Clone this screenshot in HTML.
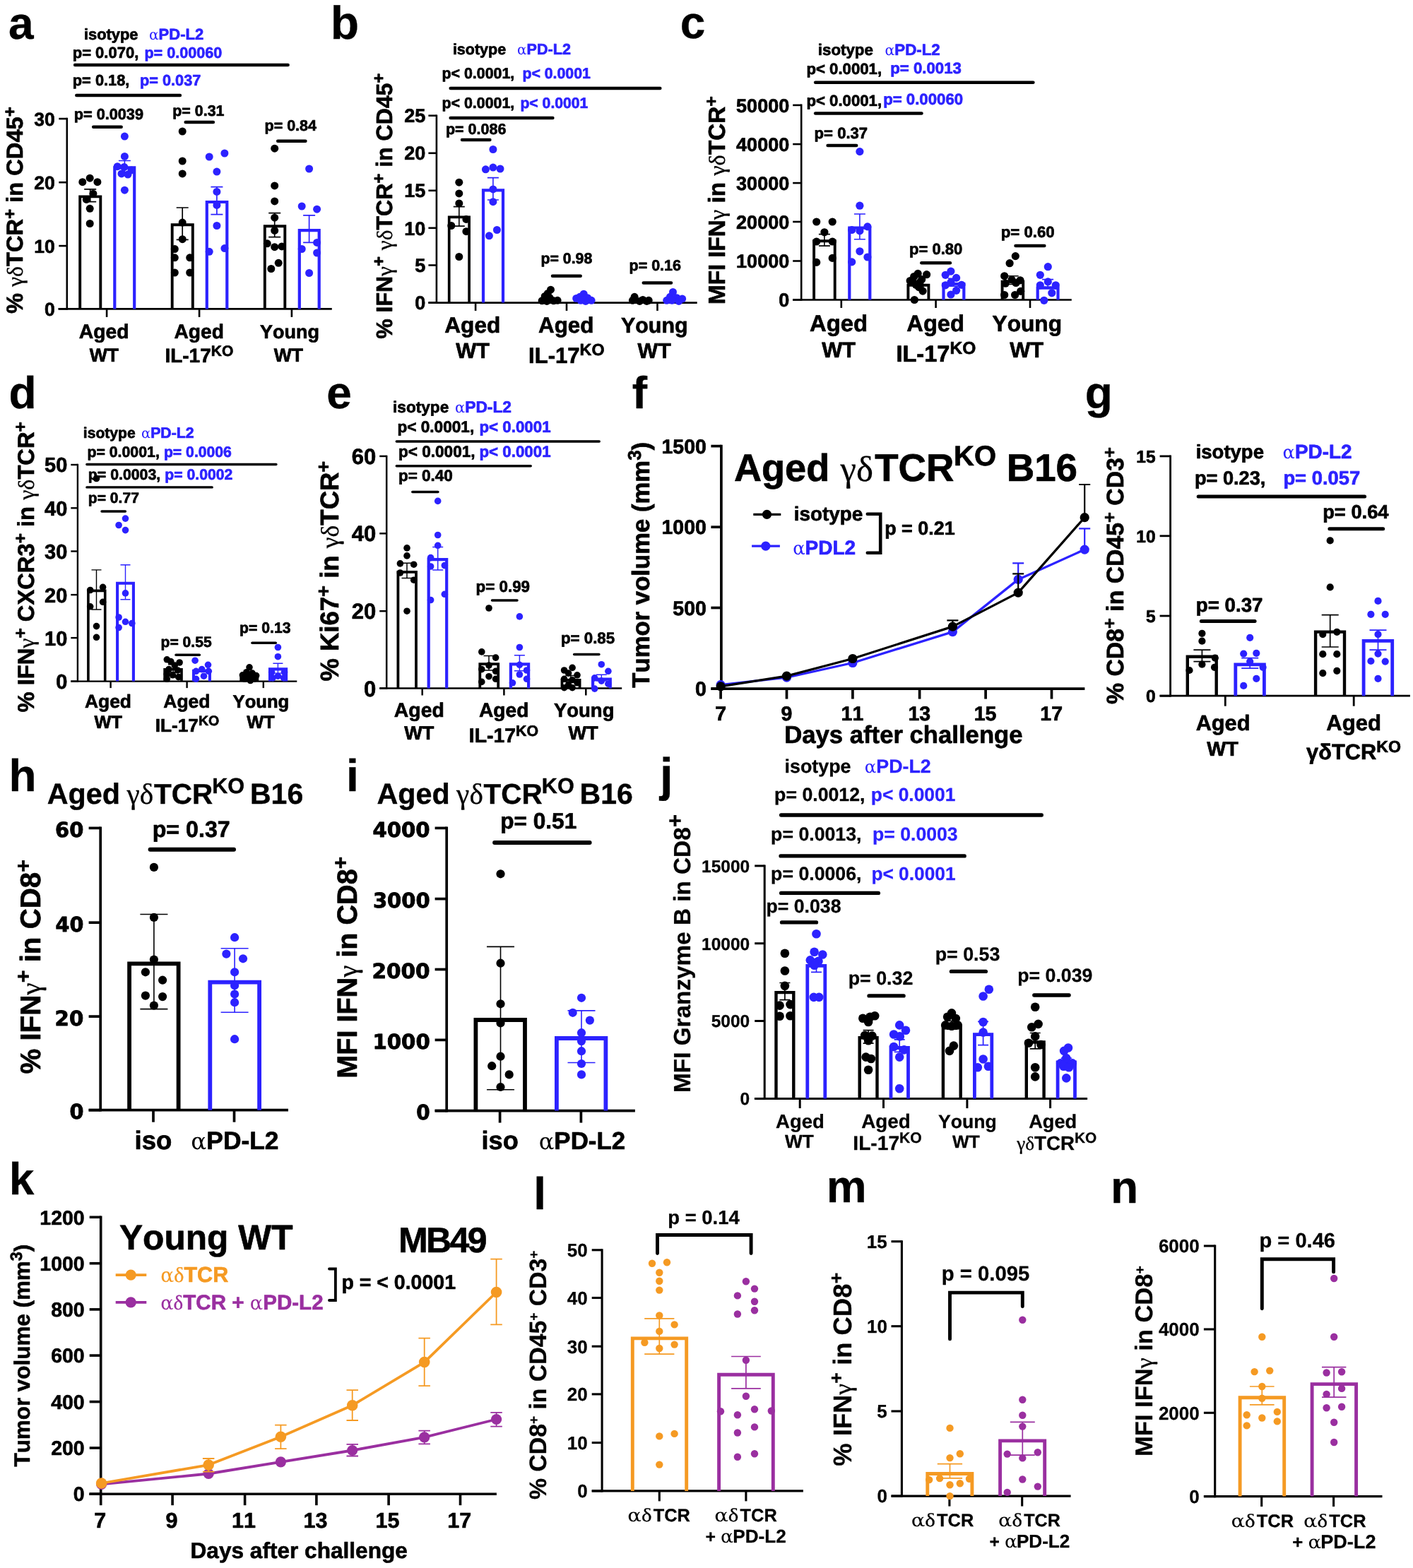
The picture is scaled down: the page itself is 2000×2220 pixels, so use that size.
<!DOCTYPE html>
<html lang="en"><head><meta charset="utf-8"><title>Figure</title>
<style>
html,body{margin:0;padding:0;background:#fff;}
body{width:2000px;height:2220px;overflow:hidden;}
svg{display:block;font-family:"Liberation Sans",sans-serif;font-weight:bold;font-kerning:none;text-rendering:geometricPrecision;}
</style></head><body>
<svg xmlns="http://www.w3.org/2000/svg" width="2000" height="2220" viewBox="0 0 2000 2220">
<rect x="0" y="0" width="2000" height="2220" fill="#ffffff"/>
<!-- panel a -->
<text x="11.9" y="54.9" font-size="64" stroke="#000000" stroke-width="0.3" stroke-linejoin="round" xml:space="preserve"><tspan>a</tspan></text>
<text x="118.9" y="56.3" font-size="21.9" stroke="#000000" stroke-width="0.7" stroke-linejoin="round" xml:space="preserve"><tspan>isotype</tspan></text>
<text x="210.9" y="56.3" font-size="22" fill="#2c22ff" stroke="#2c22ff" stroke-width="0.7" stroke-linejoin="round" xml:space="preserve"><tspan font-family="'DejaVu Serif','Liberation Serif',serif" stroke-width="0" font-weight="normal" font-size="20.3">α</tspan><tspan>PD-L2</tspan></text>
<text x="102.7" y="82.4" font-size="22" stroke="#000000" stroke-width="0.7" stroke-linejoin="round" xml:space="preserve"><tspan>p= 0.070,</tspan></text>
<text x="204.4" y="82.4" font-size="21.6" fill="#2c22ff" stroke="#2c22ff" stroke-width="0.7" stroke-linejoin="round" xml:space="preserve"><tspan>p= 0.00060</tspan></text>
<line x1="106.1" y1="92" x2="407.6" y2="92" stroke="#000000" stroke-width="4.5" stroke-linecap="round"/>
<text x="102.8" y="120.9" font-size="21.8" stroke="#000000" stroke-width="0.7" stroke-linejoin="round" xml:space="preserve"><tspan>p= 0.18,</tspan></text>
<text x="198.1" y="120.9" font-size="21.7" fill="#2c22ff" stroke="#2c22ff" stroke-width="0.7" stroke-linejoin="round" xml:space="preserve"><tspan>p= 0.037</tspan></text>
<line x1="108.3" y1="134.9" x2="254.9" y2="134.9" stroke="#000000" stroke-width="4.5" stroke-linecap="round"/>
<text x="104.7" y="169" font-size="21.7" stroke="#000000" stroke-width="0.7" stroke-linejoin="round" xml:space="preserve"><tspan>p= 0.0039</tspan></text>
<line x1="132.2" y1="179.7" x2="171.7" y2="179.7" stroke="#000000" stroke-width="4.5" stroke-linecap="round"/>
<text x="244.3" y="164" font-size="21.4" stroke="#000000" stroke-width="0.7" stroke-linejoin="round" xml:space="preserve"><tspan>p= 0.31</tspan></text>
<line x1="262.7" y1="173.1" x2="301.9" y2="173.1" stroke="#000000" stroke-width="4.5" stroke-linecap="round"/>
<text x="374.5" y="184.6" font-size="21.5" stroke="#000000" stroke-width="0.7" stroke-linejoin="round" xml:space="preserve"><tspan>p= 0.84</tspan></text>
<line x1="393.2" y1="199.7" x2="432.4" y2="199.7" stroke="#000000" stroke-width="4.5" stroke-linecap="round"/>
<line x1="94.8" y1="166.8" x2="94.8" y2="438.7" stroke="#000000" stroke-width="2.6"/>
<line x1="83.3" y1="168.1" x2="94.8" y2="168.1" stroke="#000000" stroke-width="2.6"/>
<text x="77.8" y="177.6" font-size="26.5" text-anchor="end" stroke="#000000" stroke-width="0.7" stroke-linejoin="round" xml:space="preserve"><tspan>30</tspan></text>
<line x1="83.3" y1="258.2" x2="94.8" y2="258.2" stroke="#000000" stroke-width="2.6"/>
<text x="77.8" y="267.7" font-size="26.5" text-anchor="end" stroke="#000000" stroke-width="0.7" stroke-linejoin="round" xml:space="preserve"><tspan>20</tspan></text>
<line x1="83.3" y1="348.1" x2="94.8" y2="348.1" stroke="#000000" stroke-width="2.6"/>
<text x="77.8" y="357.6" font-size="26.5" text-anchor="end" stroke="#000000" stroke-width="0.7" stroke-linejoin="round" xml:space="preserve"><tspan>10</tspan></text>
<line x1="83.3" y1="437.4" x2="94.8" y2="437.4" stroke="#000000" stroke-width="2.6"/>
<text x="77.8" y="446.8" font-size="26.5" text-anchor="end" stroke="#000000" stroke-width="0.7" stroke-linejoin="round" xml:space="preserve"><tspan>0</tspan></text>
<line x1="82.4" y1="437.4" x2="469.8" y2="437.4" stroke="#000000" stroke-width="2.6"/>
<line x1="151.1" y1="437.4" x2="151.1" y2="448.9" stroke="#000000" stroke-width="2.6"/>
<line x1="282.1" y1="437.4" x2="282.1" y2="448.9" stroke="#000000" stroke-width="2.6"/>
<line x1="412.9" y1="437.4" x2="412.9" y2="448.9" stroke="#000000" stroke-width="2.6"/>
<text x="32.3" y="444.1" font-size="32.6" transform="rotate(-90 32.3 444.1)" stroke="#000000" stroke-width="0.7" stroke-linejoin="round" xml:space="preserve"><tspan>% </tspan><tspan font-family="'Liberation Serif','DejaVu Serif',serif" stroke-width="0.3" font-weight="normal" font-size="31.9">γδ</tspan><tspan>TCR</tspan><tspan font-size="24.4" dy="-10.7">+</tspan><tspan dy="10.7"> in CD45</tspan><tspan font-size="24.4" dy="-10.7">+</tspan></text>
<path d="M113.2 437.4 V278.4 H142.3 V437.4" fill="none" stroke="#000000" stroke-width="3.9" stroke-linejoin="miter"/>
<path d="M162.3 437.4 V237.4 H190.2 V437.4" fill="none" stroke="#2c22ff" stroke-width="4.2" stroke-linejoin="miter"/>
<path d="M243.7 437.4 V318.3 H272.8 V437.4" fill="none" stroke="#000000" stroke-width="3.9" stroke-linejoin="miter"/>
<path d="M292.8 437.4 V286 H321.3 V437.4" fill="none" stroke="#2c22ff" stroke-width="4.2" stroke-linejoin="miter"/>
<path d="M374.8 437.4 V320.2 H403.3 V437.4" fill="none" stroke="#000000" stroke-width="3.9" stroke-linejoin="miter"/>
<path d="M423.8 437.4 V326.1 H451.7 V437.4" fill="none" stroke="#2c22ff" stroke-width="4.2" stroke-linejoin="miter"/>
<path d="M127.7 267.9 V285.7 M119.2 267.9 H136.2 M119.2 285.7 H136.2" fill="none" stroke="#000000" stroke-width="1.7"/>
<path d="M176.4 227.5 V244 M167.9 227.5 H184.9 M167.9 244 H184.9" fill="none" stroke="#2c22ff" stroke-width="1.7"/>
<path d="M258.2 294 V339.3 M249.7 294 H266.7 M249.7 339.3 H266.7" fill="none" stroke="#000000" stroke-width="1.7"/>
<path d="M306.9 264.6 V303.6 M298.4 264.6 H315.4 M298.4 303.6 H315.4" fill="none" stroke="#2c22ff" stroke-width="1.7"/>
<path d="M388.7 301.6 V335.7 M380.2 301.6 H397.2 M380.2 335.7 H397.2" fill="none" stroke="#000000" stroke-width="1.7"/>
<path d="M437.6 304.9 V343.4 M429.1 304.9 H446.1 M429.1 343.4 H446.1" fill="none" stroke="#2c22ff" stroke-width="1.7"/>
<g fill="#000000"><circle cx="116.8" cy="257.7" r="5.5"/><circle cx="127.2" cy="252.2" r="5.5"/><circle cx="137.9" cy="257.7" r="5.5"/><circle cx="131.9" cy="274.2" r="5.5"/><circle cx="122.3" cy="282.4" r="5.5"/><circle cx="127.2" cy="295.3" r="5.5"/><circle cx="127.2" cy="316.5" r="5.5"/></g>
<g fill="#2c22ff"><circle cx="176.4" cy="193.1" r="5.5"/><circle cx="176.4" cy="221.4" r="5.5"/><circle cx="166.2" cy="235.7" r="5.5"/><circle cx="175.8" cy="236.5" r="5.5"/><circle cx="186" cy="240.9" r="5.5"/><circle cx="172" cy="245.9" r="5.5"/><circle cx="181" cy="247" r="5.5"/><circle cx="176.4" cy="269.2" r="5.5"/></g>
<g fill="#000000"><circle cx="258.2" cy="186" r="5.5"/><circle cx="258.2" cy="228" r="5.5"/><circle cx="258.2" cy="245.9" r="5.5"/><circle cx="258.2" cy="315.1" r="5.5"/><circle cx="258.2" cy="338.7" r="5.5"/><circle cx="247.3" cy="352.5" r="5.5"/><circle cx="247.3" cy="364.8" r="5.5"/><circle cx="268.7" cy="364.8" r="5.5"/><circle cx="247.3" cy="386" r="5.5"/><circle cx="268.7" cy="386" r="5.5"/></g>
<g fill="#2c22ff"><circle cx="296.2" cy="222" r="5.5"/><circle cx="317.9" cy="217" r="5.5"/><circle cx="306.9" cy="243.1" r="5.5"/><circle cx="306.9" cy="271.4" r="5.5"/><circle cx="306.9" cy="290.4" r="5.5"/><circle cx="306.9" cy="319.5" r="5.5"/><circle cx="296.2" cy="356.3" r="5.5"/><circle cx="317.9" cy="351.6" r="5.5"/></g>
<g fill="#000000"><circle cx="388.7" cy="210.2" r="5.5"/><circle cx="388.7" cy="262.9" r="5.5"/><circle cx="388.7" cy="284.9" r="5.5"/><circle cx="388.7" cy="308.2" r="5.5"/><circle cx="388.7" cy="326.4" r="5.5"/><circle cx="378.3" cy="344.8" r="5.5"/><circle cx="388.7" cy="349.7" r="5.5"/><circle cx="398.9" cy="348.9" r="5.5"/><circle cx="394.2" cy="372.3" r="5.5"/><circle cx="383.8" cy="380.5" r="5.5"/></g>
<g fill="#2c22ff"><circle cx="437.6" cy="239" r="5.5"/><circle cx="427.2" cy="292" r="5.5"/><circle cx="448.6" cy="296.2" r="5.5"/><circle cx="448.6" cy="343.4" r="5.5"/><circle cx="427.2" cy="352.5" r="5.5"/><circle cx="448.6" cy="358" r="5.5"/><circle cx="437.6" cy="386.5" r="5.5"/></g>
<text x="111.7" y="478.8" font-size="28.4" stroke="#000000" stroke-width="0.7" stroke-linejoin="round" xml:space="preserve"><tspan>Aged</tspan></text>
<text x="126.7" y="512.4" font-size="26.6" stroke="#000000" stroke-width="0.7" stroke-linejoin="round" xml:space="preserve"><tspan>WT</tspan></text>
<text x="246.4" y="478.8" font-size="28.2" stroke="#000000" stroke-width="0.7" stroke-linejoin="round" xml:space="preserve"><tspan>Aged</tspan></text>
<text x="233.4" y="513.2" font-size="28" stroke="#000000" stroke-width="0.7" stroke-linejoin="round" xml:space="preserve"><tspan>IL-17</tspan><tspan font-size="21" dy="-9.2">KO</tspan></text>
<text x="368" y="478.8" font-size="27" stroke="#000000" stroke-width="0.7" stroke-linejoin="round" xml:space="preserve"><tspan>Young</tspan></text>
<text x="387.7" y="512.4" font-size="26.6" stroke="#000000" stroke-width="0.7" stroke-linejoin="round" xml:space="preserve"><tspan>WT</tspan></text>
<!-- panel b -->
<text x="467.7" y="54.9" font-size="66" stroke="#000000" stroke-width="0.3" stroke-linejoin="round" xml:space="preserve"><tspan>b</tspan></text>
<text x="640.9" y="76.9" font-size="21.5" stroke="#000000" stroke-width="0.7" stroke-linejoin="round" xml:space="preserve"><tspan>isotype</tspan></text>
<text x="732.1" y="76.9" font-size="21.6" fill="#2c22ff" stroke="#2c22ff" stroke-width="0.7" stroke-linejoin="round" xml:space="preserve"><tspan font-family="'DejaVu Serif','Liberation Serif',serif" stroke-width="0" font-weight="normal" font-size="19.9">α</tspan><tspan>PD-L2</tspan></text>
<text x="625.4" y="110.7" font-size="21.4" stroke="#000000" stroke-width="0.7" stroke-linejoin="round" xml:space="preserve"><tspan>p&lt; 0.0001,</tspan></text>
<text x="739.4" y="110.7" font-size="21.3" fill="#2c22ff" stroke="#2c22ff" stroke-width="0.7" stroke-linejoin="round" xml:space="preserve"><tspan>p&lt; 0.0001</tspan></text>
<line x1="637.7" y1="125" x2="934.3" y2="125" stroke="#000000" stroke-width="4.5" stroke-linecap="round"/>
<text x="625.4" y="153.3" font-size="21.4" stroke="#000000" stroke-width="0.7" stroke-linejoin="round" xml:space="preserve"><tspan>p&lt; 0.0001,</tspan></text>
<text x="736.4" y="153.3" font-size="21.2" fill="#2c22ff" stroke="#2c22ff" stroke-width="0.7" stroke-linejoin="round" xml:space="preserve"><tspan>p&lt; 0.0001</tspan></text>
<line x1="637.7" y1="167" x2="782.4" y2="167" stroke="#000000" stroke-width="4.5" stroke-linecap="round"/>
<text x="630.9" y="190.4" font-size="21.5" stroke="#000000" stroke-width="0.7" stroke-linejoin="round" xml:space="preserve"><tspan>p= 0.086</tspan></text>
<line x1="654" y1="198.1" x2="693.4" y2="198.1" stroke="#000000" stroke-width="4.5" stroke-linecap="round"/>
<text x="765.5" y="372.8" font-size="21.3" stroke="#000000" stroke-width="0.7" stroke-linejoin="round" xml:space="preserve"><tspan>p= 0.98</tspan></text>
<line x1="782" y1="390.7" x2="821.7" y2="390.7" stroke="#000000" stroke-width="4.5" stroke-linecap="round"/>
<text x="890.5" y="383.2" font-size="21.5" stroke="#000000" stroke-width="0.7" stroke-linejoin="round" xml:space="preserve"><tspan>p= 0.16</tspan></text>
<line x1="910.8" y1="400.5" x2="950" y2="400.5" stroke="#000000" stroke-width="4.5" stroke-linecap="round"/>
<line x1="617.9" y1="162.4" x2="617.9" y2="429.9" stroke="#000000" stroke-width="2.6"/>
<line x1="606.4" y1="163.7" x2="617.9" y2="163.7" stroke="#000000" stroke-width="2.6"/>
<text x="602.4" y="173.4" font-size="27" text-anchor="end" stroke="#000000" stroke-width="0.7" stroke-linejoin="round" xml:space="preserve"><tspan>25</tspan></text>
<line x1="606.4" y1="216.8" x2="617.9" y2="216.8" stroke="#000000" stroke-width="2.6"/>
<text x="602.4" y="226.4" font-size="27" text-anchor="end" stroke="#000000" stroke-width="0.7" stroke-linejoin="round" xml:space="preserve"><tspan>20</tspan></text>
<line x1="606.4" y1="269.8" x2="617.9" y2="269.8" stroke="#000000" stroke-width="2.6"/>
<text x="602.4" y="279.4" font-size="27" text-anchor="end" stroke="#000000" stroke-width="0.7" stroke-linejoin="round" xml:space="preserve"><tspan>15</tspan></text>
<line x1="606.4" y1="322.8" x2="617.9" y2="322.8" stroke="#000000" stroke-width="2.6"/>
<text x="602.4" y="332.5" font-size="27" text-anchor="end" stroke="#000000" stroke-width="0.7" stroke-linejoin="round" xml:space="preserve"><tspan>10</tspan></text>
<line x1="606.4" y1="375.5" x2="617.9" y2="375.5" stroke="#000000" stroke-width="2.6"/>
<text x="602.4" y="385.2" font-size="27" text-anchor="end" stroke="#000000" stroke-width="0.7" stroke-linejoin="round" xml:space="preserve"><tspan>5</tspan></text>
<line x1="606.4" y1="428.6" x2="617.9" y2="428.6" stroke="#000000" stroke-width="2.6"/>
<text x="602.4" y="438.2" font-size="27" text-anchor="end" stroke="#000000" stroke-width="0.7" stroke-linejoin="round" xml:space="preserve"><tspan>0</tspan></text>
<line x1="606.4" y1="428.6" x2="986.7" y2="428.6" stroke="#000000" stroke-width="2.6"/>
<line x1="673.1" y1="428.6" x2="673.1" y2="440.1" stroke="#000000" stroke-width="2.6"/>
<line x1="802" y1="428.6" x2="802" y2="440.1" stroke="#000000" stroke-width="2.6"/>
<line x1="930.5" y1="428.6" x2="930.5" y2="440.1" stroke="#000000" stroke-width="2.6"/>
<text x="554.6" y="479.8" font-size="32" transform="rotate(-90 554.6 479.8)" stroke="#000000" stroke-width="0.7" stroke-linejoin="round" xml:space="preserve"><tspan>% IFN</tspan><tspan font-family="'Liberation Serif','DejaVu Serif',serif" stroke-width="0.3" font-weight="normal" font-size="31.4">γ</tspan><tspan font-size="24" dy="-10.6">+</tspan><tspan dy="10.6"> </tspan><tspan font-family="'Liberation Serif','DejaVu Serif',serif" stroke-width="0.3" font-weight="normal" font-size="31.4">γδ</tspan><tspan>TCR</tspan><tspan font-size="24" dy="-10.6">+</tspan><tspan dy="10.6"> in CD45</tspan><tspan font-size="24" dy="-10.6">+</tspan></text>
<path d="M635.7 428.6 V307.3 H664.1 V428.6" fill="none" stroke="#000000" stroke-width="3.7" stroke-linejoin="miter"/>
<path d="M684 428.6 V269.4 H712 V428.6" fill="none" stroke="#2c22ff" stroke-width="4.2" stroke-linejoin="miter"/>
<path d="M649.8 292.6 V320.1 M641.8 292.6 H657.8 M641.8 320.1 H657.8" fill="none" stroke="#000000" stroke-width="1.6"/>
<path d="M697.9 251.6 V283 M689.9 251.6 H705.9 M689.9 283 H705.9" fill="none" stroke="#2c22ff" stroke-width="1.6"/>
<g fill="#000000"><circle cx="649.8" cy="258.2" r="5.5"/><circle cx="649.8" cy="273.9" r="5.5"/><circle cx="649.8" cy="287.9" r="5.5"/><circle cx="638.8" cy="319.5" r="5.5"/><circle cx="659.9" cy="310.4" r="5.5"/><circle cx="659.9" cy="327.7" r="5.5"/><circle cx="649.8" cy="363.5" r="5.5"/></g>
<g fill="#2c22ff"><circle cx="697.9" cy="211.5" r="5.5"/><circle cx="687.4" cy="239.8" r="5.5"/><circle cx="697.9" cy="237.1" r="5.5"/><circle cx="708" cy="239" r="5.5"/><circle cx="697.9" cy="267.9" r="5.5"/><circle cx="697.9" cy="285.7" r="5.5"/><circle cx="703.4" cy="325.5" r="5.5"/><circle cx="692.4" cy="333.8" r="5.5"/></g>
<g fill="#000000"><circle cx="767.1" cy="425.8" r="5.5"/><circle cx="771.2" cy="419.5" r="5.5"/><circle cx="775.3" cy="415.4" r="5.5"/><circle cx="779.5" cy="410.2" r="5.5"/><circle cx="778.1" cy="421.7" r="5.5"/><circle cx="783.6" cy="425.8" r="5.5"/><circle cx="789.1" cy="425.3" r="5.5"/><circle cx="774" cy="426.4" r="5.5"/></g>
<g fill="#2c22ff"><circle cx="815.7" cy="422.5" r="5.5"/><circle cx="820.7" cy="420.3" r="5.5"/><circle cx="826.2" cy="416.2" r="5.5"/><circle cx="831.6" cy="421.7" r="5.5"/><circle cx="837.1" cy="425.3" r="5.5"/><circle cx="828.9" cy="426.4" r="5.5"/><circle cx="822" cy="425.3" r="5.5"/></g>
<g fill="#000000"><circle cx="895.4" cy="425.3" r="5.5"/><circle cx="898.1" cy="420.3" r="5.5"/><circle cx="905.3" cy="426.4" r="5.5"/><circle cx="909.9" cy="424.5" r="5.5"/><circle cx="915.4" cy="426.4" r="5.5"/><circle cx="918.2" cy="425.3" r="5.5"/></g>
<g fill="#2c22ff"><circle cx="943.7" cy="425.3" r="5.5"/><circle cx="948.4" cy="420.3" r="5.5"/><circle cx="952.5" cy="413.5" r="5.5"/><circle cx="958" cy="421.7" r="5.5"/><circle cx="960.8" cy="426.4" r="5.5"/><circle cx="965.7" cy="423.1" r="5.5"/><circle cx="951.2" cy="425.3" r="5.5"/></g>
<text x="629.3" y="471.4" font-size="31.6" stroke="#000000" stroke-width="0.7" stroke-linejoin="round" xml:space="preserve"><tspan>Aged</tspan></text>
<text x="645.2" y="506.9" font-size="30.7" stroke="#000000" stroke-width="0.7" stroke-linejoin="round" xml:space="preserve"><tspan>WT</tspan></text>
<text x="762" y="471.4" font-size="31.4" stroke="#000000" stroke-width="0.7" stroke-linejoin="round" xml:space="preserve"><tspan>Aged</tspan></text>
<text x="748" y="513.5" font-size="31.1" stroke="#000000" stroke-width="0.7" stroke-linejoin="round" xml:space="preserve"><tspan>IL-17</tspan><tspan font-size="23.3" dy="-10.3">KO</tspan></text>
<text x="879" y="470.6" font-size="30.4" stroke="#000000" stroke-width="0.7" stroke-linejoin="round" xml:space="preserve"><tspan>Young</tspan></text>
<text x="902.6" y="506.9" font-size="30.3" stroke="#000000" stroke-width="0.7" stroke-linejoin="round" xml:space="preserve"><tspan>WT</tspan></text>
<!-- panel c -->
<text x="962.8" y="53.6" font-size="64" stroke="#000000" stroke-width="0.3" stroke-linejoin="round" xml:space="preserve"><tspan>c</tspan></text>
<text x="1157.8" y="77.7" font-size="22.3" stroke="#000000" stroke-width="0.7" stroke-linejoin="round" xml:space="preserve"><tspan>isotype</tspan></text>
<text x="1252.5" y="77.7" font-size="22.3" fill="#2c22ff" stroke="#2c22ff" stroke-width="0.7" stroke-linejoin="round" xml:space="preserve"><tspan font-family="'DejaVu Serif','Liberation Serif',serif" stroke-width="0" font-weight="normal" font-size="20.5">α</tspan><tspan>PD-L2</tspan></text>
<text x="1141.4" y="105.2" font-size="22.2" stroke="#000000" stroke-width="0.7" stroke-linejoin="round" xml:space="preserve"><tspan>p&lt; 0.0001,</tspan></text>
<text x="1260.3" y="103.8" font-size="22.2" fill="#2c22ff" stroke="#2c22ff" stroke-width="0.7" stroke-linejoin="round" xml:space="preserve"><tspan>p= 0.0013</tspan></text>
<line x1="1154.1" y1="116.8" x2="1462.4" y2="116.8" stroke="#000000" stroke-width="4.5" stroke-linecap="round"/>
<text x="1141.4" y="150" font-size="22.2" stroke="#000000" stroke-width="0.7" stroke-linejoin="round" xml:space="preserve"><tspan>p&lt; 0.0001,</tspan></text>
<text x="1250.2" y="147.5" font-size="22.2" fill="#2c22ff" stroke="#2c22ff" stroke-width="0.7" stroke-linejoin="round" xml:space="preserve"><tspan>p= 0.00060</tspan></text>
<line x1="1154.1" y1="160.4" x2="1304.5" y2="160.4" stroke="#000000" stroke-width="4.5" stroke-linecap="round"/>
<text x="1152.6" y="195.9" font-size="22.1" stroke="#000000" stroke-width="0.7" stroke-linejoin="round" xml:space="preserve"><tspan>p= 0.37</tspan></text>
<line x1="1171.6" y1="206" x2="1212.2" y2="206" stroke="#000000" stroke-width="4.5" stroke-linecap="round"/>
<text x="1287" y="359.9" font-size="22" stroke="#000000" stroke-width="0.7" stroke-linejoin="round" xml:space="preserve"><tspan>p= 0.80</tspan></text>
<line x1="1304.3" y1="372.3" x2="1344.9" y2="372.3" stroke="#000000" stroke-width="4.5" stroke-linecap="round"/>
<text x="1416.8" y="335.7" font-size="22.2" stroke="#000000" stroke-width="0.7" stroke-linejoin="round" xml:space="preserve"><tspan>p= 0.60</tspan></text>
<line x1="1437.5" y1="348.1" x2="1478.3" y2="348.1" stroke="#000000" stroke-width="4.5" stroke-linecap="round"/>
<line x1="1134.2" y1="147.6" x2="1134.2" y2="425.8" stroke="#000000" stroke-width="2.6"/>
<line x1="1122.2" y1="148.9" x2="1134.2" y2="148.9" stroke="#000000" stroke-width="2.6"/>
<text x="1117.2" y="158.6" font-size="27" text-anchor="end" stroke="#000000" stroke-width="0.7" stroke-linejoin="round" xml:space="preserve"><tspan>50000</tspan></text>
<line x1="1122.2" y1="204.1" x2="1134.2" y2="204.1" stroke="#000000" stroke-width="2.6"/>
<text x="1117.2" y="213.8" font-size="27" text-anchor="end" stroke="#000000" stroke-width="0.7" stroke-linejoin="round" xml:space="preserve"><tspan>40000</tspan></text>
<line x1="1122.2" y1="259.1" x2="1134.2" y2="259.1" stroke="#000000" stroke-width="2.6"/>
<text x="1117.2" y="268.7" font-size="27" text-anchor="end" stroke="#000000" stroke-width="0.7" stroke-linejoin="round" xml:space="preserve"><tspan>30000</tspan></text>
<line x1="1122.2" y1="314" x2="1134.2" y2="314" stroke="#000000" stroke-width="2.6"/>
<text x="1117.2" y="323.7" font-size="27" text-anchor="end" stroke="#000000" stroke-width="0.7" stroke-linejoin="round" xml:space="preserve"><tspan>20000</tspan></text>
<line x1="1122.2" y1="369.5" x2="1134.2" y2="369.5" stroke="#000000" stroke-width="2.6"/>
<text x="1117.2" y="379.2" font-size="27" text-anchor="end" stroke="#000000" stroke-width="0.7" stroke-linejoin="round" xml:space="preserve"><tspan>10000</tspan></text>
<line x1="1122.2" y1="424.5" x2="1134.2" y2="424.5" stroke="#000000" stroke-width="2.6"/>
<text x="1117.2" y="434.1" font-size="27" text-anchor="end" stroke="#000000" stroke-width="0.7" stroke-linejoin="round" xml:space="preserve"><tspan>0</tspan></text>
<line x1="1122.1" y1="424.5" x2="1516.8" y2="424.5" stroke="#000000" stroke-width="2.6"/>
<line x1="1190.8" y1="424.5" x2="1190.8" y2="436" stroke="#000000" stroke-width="2.6"/>
<line x1="1324.6" y1="424.5" x2="1324.6" y2="436" stroke="#000000" stroke-width="2.6"/>
<line x1="1458" y1="424.5" x2="1458" y2="436" stroke="#000000" stroke-width="2.6"/>
<text x="1026.2" y="431" font-size="33.2" transform="rotate(-90 1026.2 431)" stroke="#000000" stroke-width="0.7" stroke-linejoin="round" xml:space="preserve"><tspan>MFI IFN</tspan><tspan font-family="'Liberation Serif','DejaVu Serif',serif" stroke-width="0.3" font-weight="normal" font-size="32.6">γ</tspan><tspan> in </tspan><tspan font-family="'Liberation Serif','DejaVu Serif',serif" stroke-width="0.3" font-weight="normal" font-size="32.6">γδ</tspan><tspan>TCR</tspan><tspan font-size="24.9" dy="-11">+</tspan></text>
<path d="M1152.1 424.5 V341.2 H1181.7 V424.5" fill="none" stroke="#000000" stroke-width="3.9" stroke-linejoin="miter"/>
<path d="M1202.3 424.5 V322.7 H1231.3 V424.5" fill="none" stroke="#2c22ff" stroke-width="4.2" stroke-linejoin="miter"/>
<path d="M1285.4 424.5 V403.8 H1314.4 V424.5" fill="none" stroke="#000000" stroke-width="3.9" stroke-linejoin="miter"/>
<path d="M1335.5 424.5 V402.1 H1364.3 V424.5" fill="none" stroke="#2c22ff" stroke-width="4.2" stroke-linejoin="miter"/>
<path d="M1418.6 424.5 V398.6 H1448.2 V424.5" fill="none" stroke="#000000" stroke-width="3.9" stroke-linejoin="miter"/>
<path d="M1468.7 424.5 V407.6 H1497.5 V424.5" fill="none" stroke="#2c22ff" stroke-width="4.2" stroke-linejoin="miter"/>
<path d="M1166.9 331.6 V348.1 M1158.9 331.6 H1174.9 M1158.9 348.1 H1174.9" fill="none" stroke="#000000" stroke-width="1.6"/>
<path d="M1216.9 303 V338.7 M1208.9 303 H1224.9 M1208.9 338.7 H1224.9" fill="none" stroke="#2c22ff" stroke-width="1.6"/>
<path d="M1299.9 398.4 V406 M1291.9 398.4 H1307.9 M1291.9 406 H1307.9" fill="none" stroke="#000000" stroke-width="1.6"/>
<path d="M1349.9 394.2 V405.2 M1341.9 394.2 H1357.9 M1341.9 405.2 H1357.9" fill="none" stroke="#2c22ff" stroke-width="1.6"/>
<path d="M1433.7 390.7 V402.5 M1425.7 390.7 H1441.7 M1425.7 402.5 H1441.7" fill="none" stroke="#000000" stroke-width="1.6"/>
<path d="M1483.1 395.6 V406.3 M1475.1 395.6 H1491.1 M1475.1 406.3 H1491.1" fill="none" stroke="#2c22ff" stroke-width="1.6"/>
<g fill="#000000"><circle cx="1155.7" cy="314" r="5.6"/><circle cx="1178.2" cy="314" r="5.6"/><circle cx="1166.9" cy="328.8" r="5.6"/><circle cx="1155.7" cy="342" r="5.6"/><circle cx="1178.2" cy="342" r="5.6"/><circle cx="1155.7" cy="371.4" r="5.6"/><circle cx="1178.2" cy="365.4" r="5.6"/></g>
<g fill="#2c22ff"><circle cx="1216.9" cy="214.6" r="5.6"/><circle cx="1216.9" cy="291.2" r="5.6"/><circle cx="1205.7" cy="325.5" r="5.6"/><circle cx="1216.9" cy="326.9" r="5.6"/><circle cx="1227.9" cy="320.9" r="5.6"/><circle cx="1216.9" cy="355.8" r="5.6"/><circle cx="1205.7" cy="370.9" r="5.6"/><circle cx="1227.9" cy="364" r="5.6"/></g>
<g fill="#000000"><circle cx="1299.2" cy="387.4" r="5.6"/><circle cx="1311.6" cy="388.7" r="5.6"/><circle cx="1293.7" cy="391.5" r="5.6"/><circle cx="1288.2" cy="397.5" r="5.6"/><circle cx="1304.7" cy="395.6" r="5.6"/><circle cx="1296.5" cy="403.3" r="5.6"/><circle cx="1300.6" cy="406.6" r="5.6"/><circle cx="1306.1" cy="412.1" r="5.6"/><circle cx="1294.3" cy="424.5" r="5.6"/><circle cx="1292.4" cy="399.7" r="5.6"/><circle cx="1302" cy="399.7" r="5.6"/></g>
<g fill="#2c22ff"><circle cx="1345.9" cy="384.1" r="5.6"/><circle cx="1338.2" cy="389.3" r="5.6"/><circle cx="1353.6" cy="393.4" r="5.6"/><circle cx="1345.9" cy="399.7" r="5.6"/><circle cx="1338.2" cy="403.8" r="5.6"/><circle cx="1361" cy="403.3" r="5.6"/><circle cx="1353.6" cy="411.3" r="5.6"/><circle cx="1345.9" cy="417" r="5.6"/></g>
<g fill="#000000"><circle cx="1437.3" cy="362.6" r="5.6"/><circle cx="1429.1" cy="372.7" r="5.6"/><circle cx="1421.7" cy="390.8" r="5.6"/><circle cx="1432.1" cy="396" r="5.6"/><circle cx="1444" cy="396.8" r="5.6"/><circle cx="1423.2" cy="401.2" r="5.6"/><circle cx="1444.7" cy="412.3" r="5.6"/><circle cx="1421.7" cy="417.5" r="5.6"/><circle cx="1436.6" cy="417.5" r="5.6"/><circle cx="1438" cy="400.5" r="5.6"/></g>
<g fill="#2c22ff"><circle cx="1483.3" cy="377.7" r="5.6"/><circle cx="1472.3" cy="389.3" r="5.6"/><circle cx="1483.3" cy="398.9" r="5.6"/><circle cx="1472.3" cy="403.8" r="5.6"/><circle cx="1494.3" cy="403.8" r="5.6"/><circle cx="1488.8" cy="414.8" r="5.6"/><circle cx="1477.8" cy="425.3" r="5.6"/></g>
<text x="1146" y="468.8" font-size="32.8" stroke="#000000" stroke-width="0.7" stroke-linejoin="round" xml:space="preserve"><tspan>Aged</tspan></text>
<text x="1163.3" y="506.2" font-size="30.8" stroke="#000000" stroke-width="0.7" stroke-linejoin="round" xml:space="preserve"><tspan>WT</tspan></text>
<text x="1283.3" y="468.8" font-size="32.7" stroke="#000000" stroke-width="0.7" stroke-linejoin="round" xml:space="preserve"><tspan>Aged</tspan></text>
<text x="1268.4" y="511.9" font-size="32.6" stroke="#000000" stroke-width="0.7" stroke-linejoin="round" xml:space="preserve"><tspan>IL-17</tspan><tspan font-size="24.5" dy="-10.8">KO</tspan></text>
<text x="1404.5" y="468.8" font-size="31.7" stroke="#000000" stroke-width="0.7" stroke-linejoin="round" xml:space="preserve"><tspan>Young</tspan></text>
<text x="1429.2" y="506.2" font-size="30.9" stroke="#000000" stroke-width="0.7" stroke-linejoin="round" xml:space="preserve"><tspan>WT</tspan></text>
<!-- panel d -->
<text x="12.5" y="578.1" font-size="64" stroke="#000000" stroke-width="0.3" stroke-linejoin="round" xml:space="preserve"><tspan>d</tspan></text>
<text x="117.8" y="620.1" font-size="21.1" stroke="#000000" stroke-width="0.7" stroke-linejoin="round" xml:space="preserve"><tspan>isotype</tspan></text>
<text x="199.9" y="620.1" font-size="21.3" fill="#2c22ff" stroke="#2c22ff" stroke-width="0.7" stroke-linejoin="round" xml:space="preserve"><tspan font-family="'DejaVu Serif','Liberation Serif',serif" stroke-width="0" font-weight="normal" font-size="19.6">α</tspan><tspan>PD-L2</tspan></text>
<text x="123.4" y="646.8" font-size="21.3" stroke="#000000" stroke-width="0.7" stroke-linejoin="round" xml:space="preserve"><tspan>p= 0.0001,</tspan></text>
<text x="231.9" y="646.8" font-size="21.2" fill="#2c22ff" stroke="#2c22ff" stroke-width="0.7" stroke-linejoin="round" xml:space="preserve"><tspan>p= 0.0006</tspan></text>
<line x1="122.9" y1="657.5" x2="390.9" y2="657.5" stroke="#000000" stroke-width="3.4" stroke-linecap="round"/>
<text x="124.8" y="679.2" font-size="21.3" stroke="#000000" stroke-width="0.7" stroke-linejoin="round" xml:space="preserve"><tspan>p= 0.0003,</tspan></text>
<text x="233.3" y="679.2" font-size="21.2" fill="#2c22ff" stroke="#2c22ff" stroke-width="0.7" stroke-linejoin="round" xml:space="preserve"><tspan>p= 0.0002</tspan></text>
<line x1="122.9" y1="689.9" x2="300.2" y2="689.9" stroke="#000000" stroke-width="3.4" stroke-linecap="round"/>
<text x="124.8" y="712.1" font-size="21.1" stroke="#000000" stroke-width="0.7" stroke-linejoin="round" xml:space="preserve"><tspan>p= 0.77</tspan></text>
<line x1="144" y1="724" x2="177.4" y2="724" stroke="#000000" stroke-width="3.4" stroke-linecap="round"/>
<text x="227.5" y="916" font-size="21.1" stroke="#000000" stroke-width="0.7" stroke-linejoin="round" xml:space="preserve"><tspan>p= 0.55</tspan></text>
<line x1="249" y1="927.3" x2="282.4" y2="927.3" stroke="#000000" stroke-width="3.4" stroke-linecap="round"/>
<text x="339.1" y="896.2" font-size="21.2" stroke="#000000" stroke-width="0.7" stroke-linejoin="round" xml:space="preserve"><tspan>p= 0.13</tspan></text>
<line x1="356.9" y1="910.2" x2="390.3" y2="910.2" stroke="#000000" stroke-width="3.4" stroke-linecap="round"/>
<line x1="109.9" y1="656.8" x2="109.9" y2="965.8" stroke="#000000" stroke-width="2.4"/>
<line x1="100.3" y1="658" x2="109.9" y2="658" stroke="#000000" stroke-width="2.4"/>
<text x="95.3" y="668.4" font-size="29" text-anchor="end" stroke="#000000" stroke-width="0.7" stroke-linejoin="round" xml:space="preserve"><tspan>50</tspan></text>
<line x1="100.3" y1="719.3" x2="109.9" y2="719.3" stroke="#000000" stroke-width="2.4"/>
<text x="95.3" y="729.7" font-size="29" text-anchor="end" stroke="#000000" stroke-width="0.7" stroke-linejoin="round" xml:space="preserve"><tspan>40</tspan></text>
<line x1="100.3" y1="780.5" x2="109.9" y2="780.5" stroke="#000000" stroke-width="2.4"/>
<text x="95.3" y="790.9" font-size="29" text-anchor="end" stroke="#000000" stroke-width="0.7" stroke-linejoin="round" xml:space="preserve"><tspan>30</tspan></text>
<line x1="100.3" y1="842.1" x2="109.9" y2="842.1" stroke="#000000" stroke-width="2.4"/>
<text x="95.3" y="852.5" font-size="29" text-anchor="end" stroke="#000000" stroke-width="0.7" stroke-linejoin="round" xml:space="preserve"><tspan>20</tspan></text>
<line x1="100.3" y1="903.1" x2="109.9" y2="903.1" stroke="#000000" stroke-width="2.4"/>
<text x="95.3" y="913.5" font-size="29" text-anchor="end" stroke="#000000" stroke-width="0.7" stroke-linejoin="round" xml:space="preserve"><tspan>10</tspan></text>
<line x1="100.3" y1="964.6" x2="109.9" y2="964.6" stroke="#000000" stroke-width="2.4"/>
<text x="95.3" y="975" font-size="29" text-anchor="end" stroke="#000000" stroke-width="0.7" stroke-linejoin="round" xml:space="preserve"><tspan>0</tspan></text>
<line x1="100.3" y1="964.6" x2="420.3" y2="964.6" stroke="#000000" stroke-width="2.4"/>
<line x1="156.6" y1="964.6" x2="156.6" y2="974.1" stroke="#000000" stroke-width="2.4"/>
<line x1="264.6" y1="964.6" x2="264.6" y2="974.1" stroke="#000000" stroke-width="2.4"/>
<line x1="372.8" y1="964.6" x2="372.8" y2="974.1" stroke="#000000" stroke-width="2.4"/>
<text x="47.7" y="1008.5" font-size="32.7" transform="rotate(-90 47.7 1008.5)" stroke="#000000" stroke-width="0.7" stroke-linejoin="round" xml:space="preserve"><tspan>% IFN</tspan><tspan font-family="'Liberation Serif','DejaVu Serif',serif" stroke-width="0.3" font-weight="normal" font-size="32">γ</tspan><tspan font-size="24.5" dy="-10.8">+</tspan><tspan dy="10.8"> CXCR3</tspan><tspan font-size="24.5" dy="-10.8">+</tspan><tspan dy="10.8"> in </tspan><tspan font-family="'Liberation Serif','DejaVu Serif',serif" stroke-width="0.3" font-weight="normal" font-size="32">γδ</tspan><tspan>TCR</tspan><tspan font-size="24.5" dy="-10.8">+</tspan></text>
<path d="M124.9 964.6 V836.4 H148.7 V964.6" fill="none" stroke="#000000" stroke-width="3.6" stroke-linejoin="miter"/>
<path d="M166.1 964.6 V825.7 H188.9 V964.6" fill="none" stroke="#2c22ff" stroke-width="4.1" stroke-linejoin="miter"/>
<path d="M233.1 964.6 V947.7 H257 V964.6" fill="none" stroke="#000000" stroke-width="3.6" stroke-linejoin="miter"/>
<path d="M274 964.6 V949.9 H296.9 V964.6" fill="none" stroke="#2c22ff" stroke-width="4.1" stroke-linejoin="miter"/>
<path d="M341.1 964.6 V955.7 H364.4 V964.6" fill="none" stroke="#000000" stroke-width="3.6" stroke-linejoin="miter"/>
<path d="M382 964.6 V947.4 H405.1 V964.6" fill="none" stroke="#2c22ff" stroke-width="4.1" stroke-linejoin="miter"/>
<path d="M136.5 806.9 V863 M129.5 806.9 H143.5 M129.5 863 H143.5" fill="none" stroke="#000000" stroke-width="1.4"/>
<path d="M177.5 799.8 V848.7 M170.5 799.8 H184.5 M170.5 848.7 H184.5" fill="none" stroke="#2c22ff" stroke-width="1.4"/>
<path d="M245.1 940.7 V951.7 M238.1 940.7 H252.1 M238.1 951.7 H252.1" fill="none" stroke="#000000" stroke-width="1.4"/>
<path d="M352.7 951.7 V957.2 M345.7 951.7 H359.7 M345.7 957.2 H359.7" fill="none" stroke="#000000" stroke-width="1.4"/>
<path d="M393.4 939.3 V953.1 M386.4 939.3 H400.4 M386.4 953.1 H400.4" fill="none" stroke="#2c22ff" stroke-width="1.4"/>
<g fill="#000000"><circle cx="136.5" cy="677.5" r="4.8"/><circle cx="145.6" cy="831.4" r="4.8"/><circle cx="127.7" cy="835.5" r="4.8"/><circle cx="145.6" cy="852.3" r="4.8"/><circle cx="127.7" cy="858.8" r="4.8"/><circle cx="136.5" cy="886.6" r="4.8"/><circle cx="136.5" cy="902.3" r="4.8"/></g>
<g fill="#2c22ff"><circle cx="177.5" cy="734.1" r="4.8"/><circle cx="168.1" cy="743.5" r="4.8"/><circle cx="177.5" cy="750.6" r="4.8"/><circle cx="177.5" cy="839.9" r="4.8"/><circle cx="168.1" cy="874" r="4.8"/><circle cx="177.5" cy="880.3" r="4.8"/><circle cx="186.8" cy="882.5" r="4.8"/><circle cx="168.1" cy="888.5" r="4.8"/></g>
<g fill="#000000"><circle cx="236.3" cy="933.8" r="4.8"/><circle cx="241.8" cy="936.6" r="4.8"/><circle cx="254.1" cy="938" r="4.8"/><circle cx="247.3" cy="942.1" r="4.8"/><circle cx="239" cy="947.6" r="4.8"/><circle cx="251.4" cy="949" r="4.8"/><circle cx="236.3" cy="954.5" r="4.8"/><circle cx="244.5" cy="955.8" r="4.8"/><circle cx="252.7" cy="958.6" r="4.8"/><circle cx="236.3" cy="961.3" r="4.8"/></g>
<g fill="#2c22ff"><circle cx="276.1" cy="935.2" r="4.8"/><circle cx="294.5" cy="941.3" r="4.8"/><circle cx="285.7" cy="947.6" r="4.8"/><circle cx="277.5" cy="950.3" r="4.8"/><circle cx="295.3" cy="950.3" r="4.8"/><circle cx="288.5" cy="957.2" r="4.8"/><circle cx="277.5" cy="961.3" r="4.8"/></g>
<g fill="#000000"><circle cx="353" cy="944.8" r="4.8"/><circle cx="348.9" cy="951.7" r="4.8"/><circle cx="357.1" cy="953.1" r="4.8"/><circle cx="343.4" cy="955.8" r="4.8"/><circle cx="362.6" cy="956.6" r="4.8"/><circle cx="353" cy="958.6" r="4.8"/><circle cx="346.2" cy="961.3" r="4.8"/><circle cx="359.9" cy="961.3" r="4.8"/><circle cx="354.4" cy="963.5" r="4.8"/></g>
<g fill="#2c22ff"><circle cx="393.4" cy="916.5" r="4.8"/><circle cx="393.4" cy="929.7" r="4.8"/><circle cx="384.6" cy="951.7" r="4.8"/><circle cx="402.5" cy="951.7" r="4.8"/><circle cx="393.4" cy="957.2" r="4.8"/><circle cx="386" cy="959.9" r="4.8"/><circle cx="401.6" cy="959.9" r="4.8"/></g>
<text x="120" y="1001.7" font-size="26.4" stroke="#000000" stroke-width="0.7" stroke-linejoin="round" xml:space="preserve"><tspan>Aged</tspan></text>
<text x="133.6" y="1031.4" font-size="25.4" stroke="#000000" stroke-width="0.7" stroke-linejoin="round" xml:space="preserve"><tspan>WT</tspan></text>
<text x="231.3" y="1001.7" font-size="26.5" stroke="#000000" stroke-width="0.7" stroke-linejoin="round" xml:space="preserve"><tspan>Aged</tspan></text>
<text x="219.8" y="1036" font-size="26.2" stroke="#000000" stroke-width="0.7" stroke-linejoin="round" xml:space="preserve"><tspan>IL-17</tspan><tspan font-size="19.6" dy="-8.6">KO</tspan></text>
<text x="329.6" y="1001.7" font-size="25.6" stroke="#000000" stroke-width="0.7" stroke-linejoin="round" xml:space="preserve"><tspan>Young</tspan></text>
<text x="349.2" y="1031.4" font-size="25.4" stroke="#000000" stroke-width="0.7" stroke-linejoin="round" xml:space="preserve"><tspan>WT</tspan></text>
<!-- panel e -->
<text x="462.3" y="578.1" font-size="64" stroke="#000000" stroke-width="0.3" stroke-linejoin="round" xml:space="preserve"><tspan>e</tspan></text>
<text x="556.1" y="584.4" font-size="22.6" stroke="#000000" stroke-width="0.7" stroke-linejoin="round" xml:space="preserve"><tspan>isotype</tspan></text>
<text x="644" y="584.4" font-size="22.8" fill="#2c22ff" stroke="#2c22ff" stroke-width="0.7" stroke-linejoin="round" xml:space="preserve"><tspan font-family="'DejaVu Serif','Liberation Serif',serif" stroke-width="0" font-weight="normal" font-size="21">α</tspan><tspan>PD-L2</tspan></text>
<text x="562.5" y="611.6" font-size="22.6" stroke="#000000" stroke-width="0.7" stroke-linejoin="round" xml:space="preserve"><tspan>p&lt; 0.0001,</tspan></text>
<text x="678.5" y="611.6" font-size="22.3" fill="#2c22ff" stroke="#2c22ff" stroke-width="0.7" stroke-linejoin="round" xml:space="preserve"><tspan>p&lt; 0.0001</tspan></text>
<line x1="561.3" y1="625.1" x2="848.2" y2="625.1" stroke="#000000" stroke-width="3.5" stroke-linecap="round"/>
<text x="563.9" y="646.8" font-size="22.6" stroke="#000000" stroke-width="0.7" stroke-linejoin="round" xml:space="preserve"><tspan>p&lt; 0.0001,</tspan></text>
<text x="678.5" y="646.8" font-size="22.3" fill="#2c22ff" stroke="#2c22ff" stroke-width="0.7" stroke-linejoin="round" xml:space="preserve"><tspan>p&lt; 0.0001</tspan></text>
<line x1="561.3" y1="659.7" x2="751.2" y2="659.7" stroke="#000000" stroke-width="3.5" stroke-linecap="round"/>
<text x="563.9" y="681.1" font-size="22.5" stroke="#000000" stroke-width="0.7" stroke-linejoin="round" xml:space="preserve"><tspan>p= 0.40</tspan></text>
<line x1="583.8" y1="696.5" x2="619.9" y2="696.5" stroke="#000000" stroke-width="3.5" stroke-linecap="round"/>
<text x="673.5" y="837.7" font-size="22.4" stroke="#000000" stroke-width="0.7" stroke-linejoin="round" xml:space="preserve"><tspan>p= 0.99</tspan></text>
<line x1="696.5" y1="850.1" x2="732" y2="850.1" stroke="#000000" stroke-width="3.5" stroke-linecap="round"/>
<text x="793.9" y="911" font-size="22.3" stroke="#000000" stroke-width="0.7" stroke-linejoin="round" xml:space="preserve"><tspan>p= 0.85</tspan></text>
<line x1="812.7" y1="926.4" x2="847.9" y2="926.4" stroke="#000000" stroke-width="3.5" stroke-linecap="round"/>
<line x1="547.2" y1="644.7" x2="547.2" y2="975.8" stroke="#000000" stroke-width="2.5"/>
<line x1="537.2" y1="645.9" x2="547.2" y2="645.9" stroke="#000000" stroke-width="2.5"/>
<text x="532.2" y="657" font-size="31" text-anchor="end" stroke="#000000" stroke-width="0.7" stroke-linejoin="round" xml:space="preserve"><tspan>60</tspan></text>
<line x1="537.2" y1="755.3" x2="547.2" y2="755.3" stroke="#000000" stroke-width="2.5"/>
<text x="532.2" y="766.4" font-size="31" text-anchor="end" stroke="#000000" stroke-width="0.7" stroke-linejoin="round" xml:space="preserve"><tspan>40</tspan></text>
<line x1="537.2" y1="865.2" x2="547.2" y2="865.2" stroke="#000000" stroke-width="2.5"/>
<text x="532.2" y="876.3" font-size="31" text-anchor="end" stroke="#000000" stroke-width="0.7" stroke-linejoin="round" xml:space="preserve"><tspan>20</tspan></text>
<line x1="537.2" y1="974.5" x2="547.2" y2="974.5" stroke="#000000" stroke-width="2.5"/>
<text x="532.2" y="985.6" font-size="31" text-anchor="end" stroke="#000000" stroke-width="0.7" stroke-linejoin="round" xml:space="preserve"><tspan>0</tspan></text>
<line x1="537.3" y1="974.5" x2="880.2" y2="974.5" stroke="#000000" stroke-width="2.5"/>
<line x1="597.7" y1="974.5" x2="597.7" y2="984.5" stroke="#000000" stroke-width="2.5"/>
<line x1="713.4" y1="974.5" x2="713.4" y2="984.5" stroke="#000000" stroke-width="2.5"/>
<line x1="829.3" y1="974.5" x2="829.3" y2="984.5" stroke="#000000" stroke-width="2.5"/>
<text x="478.7" y="964.6" font-size="36.5" transform="rotate(-90 478.7 964.6)" stroke="#000000" stroke-width="0.7" stroke-linejoin="round" xml:space="preserve"><tspan>% Ki67</tspan><tspan font-size="27.3" dy="-12">+</tspan><tspan dy="12"> in </tspan><tspan font-family="'Liberation Serif','DejaVu Serif',serif" stroke-width="0.3" font-weight="normal" font-size="35.7">γδ</tspan><tspan>TCR</tspan><tspan font-size="27.3" dy="-12">+</tspan></text>
<path d="M563.4 974.5 V809.9 H589 V974.5" fill="none" stroke="#000000" stroke-width="3.8" stroke-linejoin="miter"/>
<path d="M606.7 974.5 V792.2 H632.2 V974.5" fill="none" stroke="#2c22ff" stroke-width="4.2" stroke-linejoin="miter"/>
<path d="M679.3 974.5 V940.1 H705.2 V974.5" fill="none" stroke="#000000" stroke-width="3.8" stroke-linejoin="miter"/>
<path d="M722.9 974.5 V940.3 H748.1 V974.5" fill="none" stroke="#2c22ff" stroke-width="4.2" stroke-linejoin="miter"/>
<path d="M795.5 974.5 V962.9 H820.6 V974.5" fill="none" stroke="#000000" stroke-width="3.8" stroke-linejoin="miter"/>
<path d="M839.1 974.5 V961.7 H863.8 V974.5" fill="none" stroke="#2c22ff" stroke-width="4.2" stroke-linejoin="miter"/>
<path d="M576 797.3 V818.5 M568.5 797.3 H583.5 M568.5 818.5 H583.5" fill="none" stroke="#000000" stroke-width="1.5"/>
<path d="M619.7 774.5 V806.9 M612.2 774.5 H627.2 M612.2 806.9 H627.2" fill="none" stroke="#2c22ff" stroke-width="1.5"/>
<path d="M692 928.4 V949 M684.5 928.4 H699.5 M684.5 949 H699.5" fill="none" stroke="#000000" stroke-width="1.5"/>
<path d="M735.4 927.8 V949.8 M727.9 927.8 H742.9 M727.9 949.8 H742.9" fill="none" stroke="#2c22ff" stroke-width="1.5"/>
<path d="M807.9 956.6 V965.4 M800.4 956.6 H815.4 M800.4 965.4 H815.4" fill="none" stroke="#000000" stroke-width="1.5"/>
<path d="M851.3 955.3 V964.1 M843.8 955.3 H858.8 M843.8 964.1 H858.8" fill="none" stroke="#2c22ff" stroke-width="1.5"/>
<g fill="#000000"><circle cx="576" cy="775.9" r="4.8"/><circle cx="576" cy="786.9" r="4.8"/><circle cx="566.4" cy="797.9" r="4.8"/><circle cx="585.7" cy="799.2" r="4.8"/><circle cx="566.4" cy="811" r="4.8"/><circle cx="585.7" cy="821.2" r="4.8"/><circle cx="576" cy="865.2" r="4.8"/></g>
<g fill="#2c22ff"><circle cx="619.7" cy="709.4" r="4.8"/><circle cx="619.7" cy="757.5" r="4.8"/><circle cx="619.7" cy="772.3" r="4.8"/><circle cx="609.6" cy="789.6" r="4.8"/><circle cx="609.6" cy="802" r="4.8"/><circle cx="629.3" cy="800.6" r="4.8"/><circle cx="629.3" cy="841.3" r="4.8"/><circle cx="609.6" cy="849.5" r="4.8"/></g>
<g fill="#000000"><circle cx="692" cy="861" r="4.8"/><circle cx="681.8" cy="922.9" r="4.8"/><circle cx="701.6" cy="931.1" r="4.8"/><circle cx="692" cy="942.1" r="4.8"/><circle cx="681.8" cy="947.6" r="4.8"/><circle cx="701.6" cy="950.3" r="4.8"/><circle cx="692" cy="957.7" r="4.8"/><circle cx="681.8" cy="965.4" r="4.8"/><circle cx="701.6" cy="961.3" r="4.8"/></g>
<g fill="#2c22ff"><circle cx="735.4" cy="872.9" r="4.8"/><circle cx="735.4" cy="916.5" r="4.8"/><circle cx="735.4" cy="941.3" r="4.8"/><circle cx="745.5" cy="949" r="4.8"/><circle cx="735.4" cy="955" r="4.8"/><circle cx="725.5" cy="966.8" r="4.8"/><circle cx="745.5" cy="961.3" r="4.8"/></g>
<g fill="#000000"><circle cx="810.1" cy="945.4" r="4.8"/><circle cx="798.6" cy="949" r="4.8"/><circle cx="804.6" cy="953.1" r="4.8"/><circle cx="817" cy="955.8" r="4.8"/><circle cx="798.6" cy="961.3" r="4.8"/><circle cx="810.1" cy="962.7" r="4.8"/><circle cx="817" cy="966.8" r="4.8"/><circle cx="804.6" cy="969.6" r="4.8"/><circle cx="798.6" cy="973.7" r="4.8"/><circle cx="810.1" cy="973.7" r="4.8"/></g>
<g fill="#2c22ff"><circle cx="851.3" cy="940.7" r="4.8"/><circle cx="860.9" cy="950.3" r="4.8"/><circle cx="841.7" cy="959.9" r="4.8"/><circle cx="851.3" cy="964.1" r="4.8"/><circle cx="860.9" cy="968.2" r="4.8"/><circle cx="841.7" cy="975.1" r="4.8"/></g>
<text x="557.8" y="1014.9" font-size="28.4" stroke="#000000" stroke-width="0.7" stroke-linejoin="round" xml:space="preserve"><tspan>Aged</tspan></text>
<text x="572.2" y="1046.5" font-size="27.1" stroke="#000000" stroke-width="0.7" stroke-linejoin="round" xml:space="preserve"><tspan>WT</tspan></text>
<text x="677.9" y="1014.9" font-size="28.2" stroke="#000000" stroke-width="0.7" stroke-linejoin="round" xml:space="preserve"><tspan>Aged</tspan></text>
<text x="663.8" y="1051.4" font-size="28.4" stroke="#000000" stroke-width="0.7" stroke-linejoin="round" xml:space="preserve"><tspan>IL-17</tspan><tspan font-size="21.3" dy="-9.4">KO</tspan></text>
<text x="783.9" y="1014.9" font-size="27.5" stroke="#000000" stroke-width="0.7" stroke-linejoin="round" xml:space="preserve"><tspan>Young</tspan></text>
<text x="804.4" y="1046.5" font-size="27.1" stroke="#000000" stroke-width="0.7" stroke-linejoin="round" xml:space="preserve"><tspan>WT</tspan></text>
<!-- panel f -->
<text x="894.8" y="578.1" font-size="64" stroke="#000000" stroke-width="0.3" stroke-linejoin="round" xml:space="preserve"><tspan>f</tspan></text>
<line x1="1020.9" y1="629.8" x2="1020.9" y2="976.9" stroke="#000000" stroke-width="3.7"/>
<line x1="1006.4" y1="631.6" x2="1020.9" y2="631.6" stroke="#000000" stroke-width="3.7"/>
<text x="999.9" y="641.9" font-size="28.5" text-anchor="end" stroke="#000000" stroke-width="0.7" stroke-linejoin="round" xml:space="preserve"><tspan>1500</tspan></text>
<line x1="1006.4" y1="746.2" x2="1020.9" y2="746.2" stroke="#000000" stroke-width="3.7"/>
<text x="999.9" y="756.4" font-size="28.5" text-anchor="end" stroke="#000000" stroke-width="0.7" stroke-linejoin="round" xml:space="preserve"><tspan>1000</tspan></text>
<line x1="1006.4" y1="860.5" x2="1020.9" y2="860.5" stroke="#000000" stroke-width="3.7"/>
<text x="999.9" y="870.7" font-size="28.5" text-anchor="end" stroke="#000000" stroke-width="0.7" stroke-linejoin="round" xml:space="preserve"><tspan>500</tspan></text>
<line x1="1006.4" y1="975.1" x2="1020.9" y2="975.1" stroke="#000000" stroke-width="3.7"/>
<text x="999.9" y="985.3" font-size="28.5" text-anchor="end" stroke="#000000" stroke-width="0.7" stroke-linejoin="round" xml:space="preserve"><tspan>0</tspan></text>
<line x1="1006.4" y1="975.1" x2="1535.4" y2="975.1" stroke="#000000" stroke-width="3.7"/>
<line x1="1020.1" y1="975.1" x2="1020.1" y2="989.6" stroke="#000000" stroke-width="3.7"/>
<line x1="1113.5" y1="975.1" x2="1113.5" y2="989.6" stroke="#000000" stroke-width="3.7"/>
<line x1="1206.9" y1="975.1" x2="1206.9" y2="989.6" stroke="#000000" stroke-width="3.7"/>
<line x1="1301.6" y1="975.1" x2="1301.6" y2="989.6" stroke="#000000" stroke-width="3.7"/>
<line x1="1395.1" y1="975.1" x2="1395.1" y2="989.6" stroke="#000000" stroke-width="3.7"/>
<line x1="1488.5" y1="975.1" x2="1488.5" y2="989.6" stroke="#000000" stroke-width="3.7"/>
<text x="1012.2" y="1020.4" font-size="28.5" stroke="#000000" stroke-width="0.7" stroke-linejoin="round" xml:space="preserve"><tspan>7</tspan></text>
<text x="1105.6" y="1020.4" font-size="28.5" stroke="#000000" stroke-width="0.7" stroke-linejoin="round" xml:space="preserve"><tspan>9</tspan></text>
<text x="1190.6" y="1020.4" font-size="28.5" stroke="#000000" stroke-width="0.7" stroke-linejoin="round" xml:space="preserve"><tspan>11</tspan></text>
<text x="1285.4" y="1020.4" font-size="28.5" stroke="#000000" stroke-width="0.7" stroke-linejoin="round" xml:space="preserve"><tspan>13</tspan></text>
<text x="1378.7" y="1020.4" font-size="28.5" stroke="#000000" stroke-width="0.7" stroke-linejoin="round" xml:space="preserve"><tspan>15</tspan></text>
<text x="1472.3" y="1020.4" font-size="28.5" stroke="#000000" stroke-width="0.7" stroke-linejoin="round" xml:space="preserve"><tspan>17</tspan></text>
<text x="1110.2" y="1052" font-size="34.7" stroke="#000000" stroke-width="0.7" stroke-linejoin="round" xml:space="preserve"><tspan>Days after challenge</tspan></text>
<text x="918.9" y="973.7" font-size="34.7" transform="rotate(-90 918.9 973.7)" stroke="#000000" stroke-width="0.7" stroke-linejoin="round" xml:space="preserve"><tspan>Tumor volume (mm</tspan><tspan font-size="26" dy="-11.5">3</tspan><tspan dy="11.5">)</tspan></text>
<text x="1038.9" y="680.5" font-size="54.2" stroke="#000000" stroke-width="0.7" stroke-linejoin="round" xml:space="preserve"><tspan>Aged</tspan></text>
<text x="1189.5" y="680.5" font-size="51.9" stroke="#000000" stroke-width="0.7" stroke-linejoin="round" xml:space="preserve"><tspan font-family="'Liberation Serif','DejaVu Serif',serif" stroke-width="0.3" font-weight="normal" font-size="50.9">γδ</tspan></text>
<text x="1238.2" y="680.5" font-size="54.6" stroke="#000000" stroke-width="0.7" stroke-linejoin="round" xml:space="preserve"><tspan>TCR</tspan></text>
<text x="1350.1" y="659.1" font-size="40" stroke="#000000" stroke-width="0.7" stroke-linejoin="round" xml:space="preserve"><tspan>KO</tspan></text>
<text x="1424.7" y="680.5" font-size="54.7" stroke="#000000" stroke-width="0.7" stroke-linejoin="round" xml:space="preserve"><tspan>B16</tspan></text>
<line x1="1066.3" y1="728.4" x2="1105.3" y2="728.4" stroke="#000000" stroke-width="3.3"/>
<g fill="#000000"><circle cx="1085.5" cy="728.4" r="6.6"/></g>
<text x="1123.7" y="737.4" font-size="27.9" stroke="#000000" stroke-width="0.7" stroke-linejoin="round" xml:space="preserve"><tspan>isotype</tspan></text>
<line x1="1064.1" y1="773.1" x2="1103.9" y2="773.1" stroke="#2c22ff" stroke-width="3.3"/>
<g fill="#2c22ff"><circle cx="1083.8" cy="773.1" r="6.6"/></g>
<text x="1122.2" y="784.9" font-size="28" fill="#2c22ff" stroke="#2c22ff" stroke-width="0.7" stroke-linejoin="round" xml:space="preserve"><tspan font-family="'DejaVu Serif','Liberation Serif',serif" stroke-width="0" font-weight="normal" font-size="25.8">α</tspan><tspan>PDL2</tspan></text>
<path d="M1227.8 727.8 H1246.2 V782.7 H1227.8" fill="none" stroke="#000" stroke-width="4.6" stroke-linecap="round" stroke-linejoin="miter"/>
<text x="1252.2" y="756.6" font-size="26.9" stroke="#000000" stroke-width="0.7" stroke-linejoin="round" xml:space="preserve"><tspan>p = 0.21</tspan></text>
<path d="M1441.2 820.4 V797.3 M1433.2 797.3 H1449.2" fill="none" stroke="#2c22ff" stroke-width="2.2"/>
<path d="M1535.2 778.1 V748.4 M1527.2 748.4 H1543.2" fill="none" stroke="#2c22ff" stroke-width="2.2"/>
<polyline points="1020.1,969.6 1113.5,959.1 1206.9,938.5 1348.4,894.6 1441.2,820.4 1535.2,778.1" fill="none" stroke="#2c22ff" stroke-width="3.3" stroke-linejoin="round"/>
<g fill="#2c22ff"><circle cx="1020.1" cy="969.6" r="6.6"/><circle cx="1113.5" cy="959.1" r="6.6"/><circle cx="1206.9" cy="938.5" r="6.6"/><circle cx="1348.4" cy="894.6" r="6.6"/><circle cx="1441.2" cy="820.4" r="6.6"/><circle cx="1535.2" cy="778.1" r="6.6"/></g>
<path d="M1348.4 887.1 V878.4 M1340.4 878.4 H1356.4" fill="none" stroke="#000000" stroke-width="2.2"/>
<path d="M1441.2 839.1 V812.4 M1433.2 812.4 H1449.2" fill="none" stroke="#000000" stroke-width="2.2"/>
<path d="M1535.2 732.7 V686 M1527.2 686 H1543.2" fill="none" stroke="#000000" stroke-width="2.2"/>
<polyline points="1020.1,971.8 1113.5,957.2 1206.9,932.5 1348.4,887.1 1441.2,839.1 1535.2,732.7" fill="none" stroke="#000000" stroke-width="3.3" stroke-linejoin="round"/>
<g fill="#000000"><circle cx="1020.1" cy="971.8" r="6.6"/><circle cx="1113.5" cy="957.2" r="6.6"/><circle cx="1206.9" cy="932.5" r="6.6"/><circle cx="1348.4" cy="887.1" r="6.6"/><circle cx="1441.2" cy="839.1" r="6.6"/><circle cx="1535.2" cy="732.7" r="6.6"/></g>
<!-- panel g -->
<text x="1535.8" y="578.1" font-size="64" stroke="#000000" stroke-width="0.3" stroke-linejoin="round" xml:space="preserve"><tspan>g</tspan></text>
<text x="1692.7" y="648.7" font-size="27.5" stroke="#000000" stroke-width="0.7" stroke-linejoin="round" xml:space="preserve"><tspan>isotype</tspan></text>
<text x="1815.6" y="648.7" font-size="27.9" fill="#2c22ff" stroke="#2c22ff" stroke-width="0.7" stroke-linejoin="round" xml:space="preserve"><tspan font-family="'DejaVu Serif','Liberation Serif',serif" stroke-width="0" font-weight="normal" font-size="25.6">α</tspan><tspan>PD-L2</tspan></text>
<text x="1690.9" y="685.8" font-size="27.2" stroke="#000000" stroke-width="0.7" stroke-linejoin="round" xml:space="preserve"><tspan>p= 0.23,</tspan></text>
<text x="1816.4" y="685.8" font-size="27.4" fill="#2c22ff" stroke="#2c22ff" stroke-width="0.7" stroke-linejoin="round" xml:space="preserve"><tspan>p= 0.057</tspan></text>
<line x1="1696.2" y1="703.1" x2="1931.6" y2="703.1" stroke="#000000" stroke-width="5" stroke-linecap="round"/>
<text x="1872.2" y="733.8" font-size="27.3" stroke="#000000" stroke-width="0.7" stroke-linejoin="round" xml:space="preserve"><tspan>p= 0.64</tspan></text>
<line x1="1881.9" y1="748.7" x2="1957.7" y2="748.7" stroke="#000000" stroke-width="5" stroke-linecap="round"/>
<text x="1692.8" y="865.7" font-size="27.7" stroke="#000000" stroke-width="0.7" stroke-linejoin="round" xml:space="preserve"><tspan>p= 0.37</tspan></text>
<line x1="1700.3" y1="879.5" x2="1776.1" y2="879.5" stroke="#000000" stroke-width="5" stroke-linecap="round"/>
<line x1="1656.6" y1="644.5" x2="1656.6" y2="986.6" stroke="#000000" stroke-width="2.8"/>
<line x1="1641.6" y1="645.9" x2="1656.6" y2="645.9" stroke="#000000" stroke-width="2.8"/>
<text x="1635.6" y="654.7" font-size="24.5" text-anchor="end" stroke="#000000" stroke-width="0.7" stroke-linejoin="round" xml:space="preserve"><tspan>15</tspan></text>
<line x1="1641.6" y1="758.8" x2="1656.6" y2="758.8" stroke="#000000" stroke-width="2.8"/>
<text x="1635.6" y="767.6" font-size="24.5" text-anchor="end" stroke="#000000" stroke-width="0.7" stroke-linejoin="round" xml:space="preserve"><tspan>10</tspan></text>
<line x1="1641.6" y1="872" x2="1656.6" y2="872" stroke="#000000" stroke-width="2.8"/>
<text x="1635.6" y="880.8" font-size="24.5" text-anchor="end" stroke="#000000" stroke-width="0.7" stroke-linejoin="round" xml:space="preserve"><tspan>5</tspan></text>
<line x1="1641.6" y1="985.2" x2="1656.6" y2="985.2" stroke="#000000" stroke-width="2.8"/>
<text x="1635.6" y="994" font-size="24.5" text-anchor="end" stroke="#000000" stroke-width="0.7" stroke-linejoin="round" xml:space="preserve"><tspan>0</tspan></text>
<line x1="1641.5" y1="985.2" x2="1995.9" y2="985.2" stroke="#000000" stroke-width="2.8"/>
<line x1="1734.3" y1="985.2" x2="1734.3" y2="999.7" stroke="#000000" stroke-width="2.8"/>
<line x1="1916.2" y1="985.2" x2="1916.2" y2="999.7" stroke="#000000" stroke-width="2.8"/>
<text x="1590.3" y="997" font-size="33.8" transform="rotate(-90 1590.3 997)" stroke="#000000" stroke-width="0.7" stroke-linejoin="round" xml:space="preserve"><tspan>% CD8</tspan><tspan font-size="25.4" dy="-11.2">+</tspan><tspan dy="11.2"> in CD45</tspan><tspan font-size="25.4" dy="-11.2">+</tspan><tspan dy="11.2"> CD3</tspan><tspan font-size="25.4" dy="-11.2">+</tspan></text>
<path d="M1680.8 985.2 V929.7 H1721.7 V985.2" fill="none" stroke="#000000" stroke-width="4.4" stroke-linejoin="miter"/>
<path d="M1748.8 985.2 V940.9 H1789.4 V985.2" fill="none" stroke="#2c22ff" stroke-width="4.8" stroke-linejoin="miter"/>
<path d="M1862.1 985.2 V894.6 H1903 V985.2" fill="none" stroke="#000000" stroke-width="4.4" stroke-linejoin="miter"/>
<path d="M1930.1 985.2 V907.4 H1970.7 V985.2" fill="none" stroke="#2c22ff" stroke-width="4.8" stroke-linejoin="miter"/>
<path d="M1701.4 920.1 V936.6 M1689.4 920.1 H1713.4 M1689.4 936.6 H1713.4" fill="none" stroke="#000000" stroke-width="1.7"/>
<path d="M1769.2 931.6 V946.2 M1757.2 931.6 H1781.2 M1757.2 946.2 H1781.2" fill="none" stroke="#2c22ff" stroke-width="1.7"/>
<path d="M1882.7 870.7 V916 M1870.7 870.7 H1894.7 M1870.7 916 H1894.7" fill="none" stroke="#000000" stroke-width="1.7"/>
<path d="M1950.5 892.1 V920.1 M1938.5 892.1 H1962.5 M1938.5 920.1 H1962.5" fill="none" stroke="#2c22ff" stroke-width="1.7"/>
<g fill="#000000"><circle cx="1701.4" cy="896.8" r="5.1"/><circle cx="1701.4" cy="907.7" r="5.1"/><circle cx="1719.8" cy="931.6" r="5.1"/><circle cx="1701.4" cy="940.7" r="5.1"/><circle cx="1719" cy="944.8" r="5.1"/><circle cx="1683.5" cy="949" r="5.1"/></g>
<g fill="#2c22ff"><circle cx="1769.2" cy="902.8" r="5.1"/><circle cx="1760.2" cy="925.6" r="5.1"/><circle cx="1778.3" cy="924.8" r="5.1"/><circle cx="1769.2" cy="936.6" r="5.1"/><circle cx="1787.6" cy="944.8" r="5.1"/><circle cx="1778.3" cy="960.8" r="5.1"/><circle cx="1760.2" cy="970.9" r="5.1"/></g>
<g fill="#000000"><circle cx="1882.7" cy="765.4" r="5.1"/><circle cx="1882.7" cy="831.4" r="5.1"/><circle cx="1872.3" cy="898.1" r="5.1"/><circle cx="1892.3" cy="894.8" r="5.1"/><circle cx="1872.3" cy="926.2" r="5.1"/><circle cx="1892.3" cy="926.2" r="5.1"/><circle cx="1872.3" cy="953.1" r="5.1"/><circle cx="1892.3" cy="949.8" r="5.1"/></g>
<g fill="#2c22ff"><circle cx="1950.5" cy="850.9" r="5.1"/><circle cx="1940.4" cy="869.8" r="5.1"/><circle cx="1960.7" cy="869.8" r="5.1"/><circle cx="1950.5" cy="898.1" r="5.1"/><circle cx="1950.5" cy="925.6" r="5.1"/><circle cx="1940.4" cy="936" r="5.1"/><circle cx="1960.7" cy="936.6" r="5.1"/><circle cx="1950.5" cy="960.8" r="5.1"/></g>
<text x="1692.7" y="1034.2" font-size="30.7" stroke="#000000" stroke-width="0.7" stroke-linejoin="round" xml:space="preserve"><tspan>Aged</tspan></text>
<text x="1708.3" y="1069.9" font-size="28.6" stroke="#000000" stroke-width="0.7" stroke-linejoin="round" xml:space="preserve"><tspan>WT</tspan></text>
<text x="1877.3" y="1034.2" font-size="31.1" stroke="#000000" stroke-width="0.7" stroke-linejoin="round" xml:space="preserve"><tspan>Aged</tspan></text>
<text x="1849.1" y="1074.8" font-size="30.8" stroke="#000000" stroke-width="0.7" stroke-linejoin="round" xml:space="preserve"><tspan>γδTCR</tspan><tspan font-size="23.1" dy="-10.2">KO</tspan></text>
<!-- panel h -->
<text x="12.5" y="1119.9" font-size="64" stroke="#000000" stroke-width="0.3" stroke-linejoin="round" xml:space="preserve"><tspan>h</tspan></text>
<text x="66.8" y="1138.2" font-size="41.3" stroke="#000000" stroke-width="0.4" stroke-linejoin="round" xml:space="preserve"><tspan>Aged</tspan></text>
<text x="179.5" y="1138.2" font-size="42.2" stroke="#000000" stroke-width="0.4" stroke-linejoin="round" xml:space="preserve"><tspan font-family="'Liberation Serif','DejaVu Serif',serif" stroke-width="0.3" font-weight="normal" font-size="41.4">γδ</tspan></text>
<text x="217.9" y="1138.2" font-size="40.5" stroke="#000000" stroke-width="0.4" stroke-linejoin="round" xml:space="preserve"><tspan>TCR</tspan></text>
<text x="300.2" y="1123" font-size="30.7" stroke="#000000" stroke-width="0.4" stroke-linejoin="round" xml:space="preserve"><tspan>KO</tspan></text>
<text x="354" y="1138.2" font-size="41" stroke="#000000" stroke-width="0.4" stroke-linejoin="round" xml:space="preserve"><tspan>B16</tspan></text>
<text x="215.7" y="1184.9" font-size="32.2" stroke="#000000" stroke-width="0.7" stroke-linejoin="round" xml:space="preserve"><tspan>p= 0.37</tspan></text>
<line x1="212.6" y1="1202.7" x2="331" y2="1202.7" stroke="#000000" stroke-width="6" stroke-linecap="round"/>
<line x1="142.2" y1="1170.6" x2="142.2" y2="1573.5" stroke="#000000" stroke-width="3.7"/>
<line x1="125.6" y1="1172.4" x2="142.2" y2="1172.4" stroke="#000000" stroke-width="3.7"/>
<text x="78.1" y="1184.8" font-size="29" textLength="40.3" lengthAdjust="spacingAndGlyphs" font-family="'DejaVu Sans',sans-serif" stroke="#000000" stroke-width="0.9" stroke-linejoin="round" xml:space="preserve"><tspan>60</tspan></text>
<line x1="125.6" y1="1306.2" x2="142.2" y2="1306.2" stroke="#000000" stroke-width="3.7"/>
<text x="78.6" y="1318.6" font-size="29" textLength="39.8" lengthAdjust="spacingAndGlyphs" font-family="'DejaVu Sans',sans-serif" stroke="#000000" stroke-width="0.9" stroke-linejoin="round" xml:space="preserve"><tspan>40</tspan></text>
<line x1="125.6" y1="1439.1" x2="142.2" y2="1439.1" stroke="#000000" stroke-width="3.7"/>
<text x="77.6" y="1451.5" font-size="29" textLength="40.7" lengthAdjust="spacingAndGlyphs" font-family="'DejaVu Sans',sans-serif" stroke="#000000" stroke-width="0.9" stroke-linejoin="round" xml:space="preserve"><tspan>20</tspan></text>
<line x1="125.6" y1="1571.7" x2="142.2" y2="1571.7" stroke="#000000" stroke-width="3.7"/>
<text x="98.4" y="1584.1" font-size="29" textLength="20" lengthAdjust="spacingAndGlyphs" font-family="'DejaVu Sans',sans-serif" stroke="#000000" stroke-width="0.9" stroke-linejoin="round" xml:space="preserve"><tspan>0</tspan></text>
<line x1="125.6" y1="1571.7" x2="408" y2="1571.7" stroke="#000000" stroke-width="3.7"/>
<line x1="217" y1="1571.7" x2="217" y2="1588.7" stroke="#000000" stroke-width="3.7"/>
<line x1="331.5" y1="1571.7" x2="331.5" y2="1588.7" stroke="#000000" stroke-width="3.7"/>
<text x="56.6" y="1520.6" font-size="40.3" transform="rotate(-90 56.6 1520.6)" stroke="#000000" stroke-width="0.7" stroke-linejoin="round" xml:space="preserve"><tspan>% IFN</tspan><tspan font-family="'Liberation Serif','DejaVu Serif',serif" stroke-width="0.3" font-weight="normal" font-size="39.5">γ</tspan><tspan font-size="30.2" dy="-13.3">+</tspan><tspan dy="13.3"> in CD8</tspan><tspan font-size="30.2" dy="-13.3">+</tspan></text>
<path d="M183.1 1571.7 V1364.3 H252.6 V1571.7" fill="none" stroke="#000000" stroke-width="5.8" stroke-linejoin="miter"/>
<path d="M297.3 1571.7 V1390.6 H367.1 V1571.7" fill="none" stroke="#2c22ff" stroke-width="5.8" stroke-linejoin="miter"/>
<path d="M217.9 1294.5 V1428.6 M198.4 1294.5 H237.4 M198.4 1428.6 H237.4" fill="none" stroke="#000000" stroke-width="1.6"/>
<path d="M332.1 1342.7 V1433.2 M312.6 1342.7 H351.6 M312.6 1433.2 H351.6" fill="none" stroke="#2c22ff" stroke-width="1.6"/>
<g fill="#000000"><circle cx="217.9" cy="1227.9" r="6.1"/><circle cx="217.9" cy="1298.9" r="6.1"/><circle cx="217.9" cy="1358.5" r="6.1"/><circle cx="205.9" cy="1376.3" r="6.1"/><circle cx="230.1" cy="1387.7" r="6.1"/><circle cx="205.9" cy="1409.6" r="6.1"/><circle cx="230.1" cy="1411.1" r="6.1"/><circle cx="217.9" cy="1423.6" r="6.1"/></g>
<g fill="#2c22ff"><circle cx="332.1" cy="1327.2" r="6.1"/><circle cx="320.4" cy="1350.6" r="6.1"/><circle cx="344" cy="1357.3" r="6.1"/><circle cx="332.1" cy="1376.3" r="6.1"/><circle cx="332.1" cy="1395.3" r="6.1"/><circle cx="332.1" cy="1407.5" r="6.1"/><circle cx="332.1" cy="1419.2" r="6.1"/><circle cx="332.1" cy="1471.2" r="6.1"/></g>
<text x="190.5" y="1626.6" font-size="36.6" stroke="#000000" stroke-width="0.7" stroke-linejoin="round" xml:space="preserve"><tspan>iso</tspan></text>
<text x="270.3" y="1626.6" font-size="35.4" stroke="#000000" stroke-width="0.7" stroke-linejoin="round" xml:space="preserve"><tspan font-family="'DejaVu Serif','Liberation Serif',serif" stroke-width="0" font-weight="normal" font-size="32.6">α</tspan><tspan>PD-L2</tspan></text>
<!-- panel i -->
<text x="489.9" y="1119.9" font-size="64" stroke="#000000" stroke-width="0.3" stroke-linejoin="round" xml:space="preserve"><tspan>i</tspan></text>
<text x="533.4" y="1138.2" font-size="41.3" stroke="#000000" stroke-width="0.4" stroke-linejoin="round" xml:space="preserve"><tspan>Aged</tspan></text>
<text x="646.1" y="1138.2" font-size="42.2" stroke="#000000" stroke-width="0.4" stroke-linejoin="round" xml:space="preserve"><tspan font-family="'Liberation Serif','DejaVu Serif',serif" stroke-width="0.3" font-weight="normal" font-size="41.4">γδ</tspan></text>
<text x="684.5" y="1138.2" font-size="40.5" stroke="#000000" stroke-width="0.4" stroke-linejoin="round" xml:space="preserve"><tspan>TCR</tspan></text>
<text x="766.8" y="1123" font-size="30.7" stroke="#000000" stroke-width="0.4" stroke-linejoin="round" xml:space="preserve"><tspan>KO</tspan></text>
<text x="820.6" y="1138.2" font-size="41" stroke="#000000" stroke-width="0.4" stroke-linejoin="round" xml:space="preserve"><tspan>B16</tspan></text>
<text x="708.2" y="1173.3" font-size="31.6" stroke="#000000" stroke-width="0.7" stroke-linejoin="round" xml:space="preserve"><tspan>p= 0.51</tspan></text>
<line x1="700.1" y1="1192.9" x2="834.6" y2="1192.9" stroke="#000000" stroke-width="6" stroke-linecap="round"/>
<line x1="632.2" y1="1170.6" x2="632.2" y2="1574.4" stroke="#000000" stroke-width="3.7"/>
<line x1="615.6" y1="1172.4" x2="632.2" y2="1172.4" stroke="#000000" stroke-width="3.7"/>
<text x="527.4" y="1184.8" font-size="29" textLength="81.2" lengthAdjust="spacingAndGlyphs" font-family="'DejaVu Sans',sans-serif" stroke="#000000" stroke-width="0.9" stroke-linejoin="round" xml:space="preserve"><tspan>4000</tspan></text>
<line x1="615.6" y1="1272.6" x2="632.2" y2="1272.6" stroke="#000000" stroke-width="3.7"/>
<text x="527.9" y="1285" font-size="29" textLength="80.7" lengthAdjust="spacingAndGlyphs" font-family="'DejaVu Sans',sans-serif" stroke="#000000" stroke-width="0.9" stroke-linejoin="round" xml:space="preserve"><tspan>3000</tspan></text>
<line x1="615.6" y1="1372.5" x2="632.2" y2="1372.5" stroke="#000000" stroke-width="3.7"/>
<text x="526.4" y="1384.9" font-size="29" textLength="82.2" lengthAdjust="spacingAndGlyphs" font-family="'DejaVu Sans',sans-serif" stroke="#000000" stroke-width="0.9" stroke-linejoin="round" xml:space="preserve"><tspan>2000</tspan></text>
<line x1="615.6" y1="1472.4" x2="632.2" y2="1472.4" stroke="#000000" stroke-width="3.7"/>
<text x="527.5" y="1484.8" font-size="29" textLength="81.2" lengthAdjust="spacingAndGlyphs" font-family="'DejaVu Sans',sans-serif" stroke="#000000" stroke-width="0.9" stroke-linejoin="round" xml:space="preserve"><tspan>1000</tspan></text>
<line x1="615.6" y1="1572.6" x2="632.2" y2="1572.6" stroke="#000000" stroke-width="3.7"/>
<text x="589.2" y="1584.9" font-size="29" textLength="19.4" lengthAdjust="spacingAndGlyphs" font-family="'DejaVu Sans',sans-serif" stroke="#000000" stroke-width="0.9" stroke-linejoin="round" xml:space="preserve"><tspan>0</tspan></text>
<line x1="615.6" y1="1572.6" x2="898.9" y2="1572.6" stroke="#000000" stroke-width="3.7"/>
<line x1="707.6" y1="1572.6" x2="707.6" y2="1589.6" stroke="#000000" stroke-width="3.7"/>
<line x1="822.4" y1="1572.6" x2="822.4" y2="1589.6" stroke="#000000" stroke-width="3.7"/>
<text x="504.7" y="1526.7" font-size="39.6" transform="rotate(-90 504.7 1526.7)" stroke="#000000" stroke-width="0.7" stroke-linejoin="round" xml:space="preserve"><tspan>MFI IFN</tspan><tspan font-family="'Liberation Serif','DejaVu Serif',serif" stroke-width="0.3" font-weight="normal" font-size="38.8">γ</tspan><tspan> in CD8</tspan><tspan font-size="29.7" dy="-13.1">+</tspan></text>
<path d="M673.4 1572.6 V1444 H743 V1572.6" fill="none" stroke="#000000" stroke-width="5.8" stroke-linejoin="miter"/>
<path d="M787.9 1572.6 V1470 H857.4 V1572.6" fill="none" stroke="#2c22ff" stroke-width="5.8" stroke-linejoin="miter"/>
<path d="M708.5 1340.4 V1542.8 M689 1340.4 H728 M689 1542.8 H728" fill="none" stroke="#000000" stroke-width="1.6"/>
<path d="M823 1430.9 V1504.5 M803.5 1430.9 H842.5 M803.5 1504.5 H842.5" fill="none" stroke="#2c22ff" stroke-width="1.6"/>
<g fill="#000000"><circle cx="708.5" cy="1237.3" r="6.1"/><circle cx="708.5" cy="1363.7" r="6.1"/><circle cx="708.5" cy="1421.3" r="6.1"/><circle cx="708.5" cy="1448.4" r="6.1"/><circle cx="708.5" cy="1495.7" r="6.1"/><circle cx="696.2" cy="1509.2" r="6.1"/><circle cx="720.7" cy="1521.4" r="6.1"/><circle cx="708.5" cy="1539" r="6.1"/></g>
<g fill="#2c22ff"><circle cx="823" cy="1412.8" r="6.1"/><circle cx="810.7" cy="1433.8" r="6.1"/><circle cx="834.9" cy="1444.6" r="6.1"/><circle cx="823" cy="1462.2" r="6.1"/><circle cx="823" cy="1474.1" r="6.1"/><circle cx="823" cy="1488.2" r="6.1"/><circle cx="823" cy="1506" r="6.1"/><circle cx="823" cy="1521.4" r="6.1"/></g>
<text x="681.5" y="1626.6" font-size="36.2" stroke="#000000" stroke-width="0.7" stroke-linejoin="round" xml:space="preserve"><tspan>iso</tspan></text>
<text x="762.7" y="1626.6" font-size="34.9" stroke="#000000" stroke-width="0.7" stroke-linejoin="round" xml:space="preserve"><tspan font-family="'DejaVu Serif','Liberation Serif',serif" stroke-width="0" font-weight="normal" font-size="32.1">α</tspan><tspan>PD-L2</tspan></text>
<!-- panel j -->
<text x="934.1" y="1119.9" font-size="67" stroke="#000000" stroke-width="0.3" stroke-linejoin="round" xml:space="preserve"><tspan>j</tspan></text>
<text x="1110.6" y="1093.6" font-size="26.8" stroke="#000000" stroke-width="0.3" stroke-linejoin="round" xml:space="preserve"><tspan>isotype</tspan></text>
<text x="1223.7" y="1093.6" font-size="26.8" fill="#2c22ff" stroke="#2c22ff" stroke-width="0.3" stroke-linejoin="round" xml:space="preserve"><tspan font-family="'DejaVu Serif','Liberation Serif',serif" stroke-width="0" font-weight="normal" font-size="24.6">α</tspan><tspan>PD-L2</tspan></text>
<text x="1096.1" y="1133.6" font-size="26.7" stroke="#000000" stroke-width="0.3" stroke-linejoin="round" xml:space="preserve"><tspan>p= 0.0012,</tspan></text>
<text x="1232.8" y="1133.6" font-size="26.4" fill="#2c22ff" stroke="#2c22ff" stroke-width="0.3" stroke-linejoin="round" xml:space="preserve"><tspan>p&lt; 0.0001</tspan></text>
<line x1="1105.6" y1="1154" x2="1474.3" y2="1154" stroke="#000000" stroke-width="5.3" stroke-linecap="round"/>
<text x="1091.1" y="1190" font-size="26.7" stroke="#000000" stroke-width="0.3" stroke-linejoin="round" xml:space="preserve"><tspan>p= 0.0013,</tspan></text>
<text x="1235.1" y="1190" font-size="26.6" fill="#2c22ff" stroke="#2c22ff" stroke-width="0.3" stroke-linejoin="round" xml:space="preserve"><tspan>p= 0.0003</tspan></text>
<line x1="1105" y1="1211.9" x2="1365.2" y2="1211.9" stroke="#000000" stroke-width="5.3" stroke-linecap="round"/>
<text x="1091.1" y="1245.5" font-size="26.7" stroke="#000000" stroke-width="0.3" stroke-linejoin="round" xml:space="preserve"><tspan>p= 0.0006,</tspan></text>
<text x="1233.4" y="1245.5" font-size="26.3" fill="#2c22ff" stroke="#2c22ff" stroke-width="0.3" stroke-linejoin="round" xml:space="preserve"><tspan>p&lt; 0.0001</tspan></text>
<line x1="1105.6" y1="1264.4" x2="1243.4" y2="1264.4" stroke="#000000" stroke-width="5.3" stroke-linecap="round"/>
<text x="1084.4" y="1292.2" font-size="26.7" stroke="#000000" stroke-width="0.3" stroke-linejoin="round" xml:space="preserve"><tspan>p= 0.038</tspan></text>
<line x1="1106.5" y1="1305.9" x2="1155.5" y2="1305.9" stroke="#000000" stroke-width="5.3" stroke-linecap="round"/>
<text x="1200.7" y="1393.8" font-size="26.8" stroke="#000000" stroke-width="0.3" stroke-linejoin="round" xml:space="preserve"><tspan>p= 0.32</tspan></text>
<line x1="1230" y1="1409.9" x2="1279.1" y2="1409.9" stroke="#000000" stroke-width="5.3" stroke-linecap="round"/>
<text x="1323.7" y="1360.2" font-size="26.8" stroke="#000000" stroke-width="0.3" stroke-linejoin="round" xml:space="preserve"><tspan>p= 0.53</tspan></text>
<line x1="1346.4" y1="1375.4" x2="1395.4" y2="1375.4" stroke="#000000" stroke-width="5.3" stroke-linecap="round"/>
<text x="1440.3" y="1390" font-size="26.7" stroke="#000000" stroke-width="0.3" stroke-linejoin="round" xml:space="preserve"><tspan>p= 0.039</tspan></text>
<line x1="1463.8" y1="1409" x2="1513.1" y2="1409" stroke="#000000" stroke-width="5.3" stroke-linecap="round"/>
<line x1="1082.2" y1="1224.4" x2="1082.2" y2="1557.1" stroke="#000000" stroke-width="3"/>
<line x1="1068.2" y1="1225.9" x2="1082.2" y2="1225.9" stroke="#000000" stroke-width="3"/>
<text x="1061.2" y="1234.7" font-size="24.5" text-anchor="end" stroke="#000000" stroke-width="0.3" stroke-linejoin="round" xml:space="preserve"><tspan>15000</tspan></text>
<line x1="1068.2" y1="1335.7" x2="1082.2" y2="1335.7" stroke="#000000" stroke-width="3"/>
<text x="1061.2" y="1344.5" font-size="24.5" text-anchor="end" stroke="#000000" stroke-width="0.3" stroke-linejoin="round" xml:space="preserve"><tspan>10000</tspan></text>
<line x1="1068.2" y1="1445.5" x2="1082.2" y2="1445.5" stroke="#000000" stroke-width="3"/>
<text x="1061.2" y="1454.3" font-size="24.5" text-anchor="end" stroke="#000000" stroke-width="0.3" stroke-linejoin="round" xml:space="preserve"><tspan>5000</tspan></text>
<line x1="1068.2" y1="1555.6" x2="1082.2" y2="1555.6" stroke="#000000" stroke-width="3"/>
<text x="1061.2" y="1564.4" font-size="24.5" text-anchor="end" stroke="#000000" stroke-width="0.3" stroke-linejoin="round" xml:space="preserve"><tspan>0</tspan></text>
<line x1="1067.9" y1="1555.6" x2="1539.1" y2="1555.6" stroke="#000000" stroke-width="3"/>
<line x1="1132.2" y1="1555.6" x2="1132.2" y2="1569.1" stroke="#000000" stroke-width="3"/>
<line x1="1250.5" y1="1555.6" x2="1250.5" y2="1569.1" stroke="#000000" stroke-width="3"/>
<line x1="1368.9" y1="1555.6" x2="1368.9" y2="1569.1" stroke="#000000" stroke-width="3"/>
<line x1="1486.6" y1="1555.6" x2="1486.6" y2="1569.1" stroke="#000000" stroke-width="3"/>
<text x="977.2" y="1546.9" font-size="33.3" transform="rotate(-90 977.2 1546.9)" stroke="#000000" stroke-width="0.3" stroke-linejoin="round" xml:space="preserve"><tspan>MFI Granzyme B in CD8</tspan><tspan font-size="31.6" dy="-11">+</tspan></text>
<path d="M1098.5 1555.6 V1405.1 H1123.3 V1555.6" fill="none" stroke="#000000" stroke-width="4.4" stroke-linejoin="miter"/>
<path d="M1142.8 1555.6 V1367.3 H1167.8 V1555.6" fill="none" stroke="#2c22ff" stroke-width="4.8" stroke-linejoin="miter"/>
<path d="M1216.7 1555.6 V1469.3 H1241.5 V1555.6" fill="none" stroke="#000000" stroke-width="4.4" stroke-linejoin="miter"/>
<path d="M1261 1555.6 V1483.5 H1285.5 V1555.6" fill="none" stroke="#2c22ff" stroke-width="4.8" stroke-linejoin="miter"/>
<path d="M1334.9 1555.6 V1452.7 H1359.7 V1555.6" fill="none" stroke="#000000" stroke-width="4.4" stroke-linejoin="miter"/>
<path d="M1379.4 1555.6 V1464.6 H1403.8 V1555.6" fill="none" stroke="#2c22ff" stroke-width="4.8" stroke-linejoin="miter"/>
<path d="M1452.8 1555.6 V1475.5 H1477.6 V1555.6" fill="none" stroke="#000000" stroke-width="4.4" stroke-linejoin="miter"/>
<path d="M1497.1 1555.6 V1504 H1521.5 V1555.6" fill="none" stroke="#2c22ff" stroke-width="4.8" stroke-linejoin="miter"/>
<path d="M1110.9 1391.5 V1415.7 M1103.4 1391.5 H1118.4 M1103.4 1415.7 H1118.4" fill="none" stroke="#000000" stroke-width="1.7"/>
<path d="M1155.5 1357.9 V1376.3 M1148 1357.9 H1163 M1148 1376.3 H1163" fill="none" stroke="#2c22ff" stroke-width="1.7"/>
<path d="M1229.1 1458.7 V1477.1 M1221.6 1458.7 H1236.6 M1221.6 1477.1 H1236.6" fill="none" stroke="#000000" stroke-width="1.7"/>
<path d="M1273.2 1471.8 V1489.3 M1265.7 1471.8 H1280.7 M1265.7 1489.3 H1280.7" fill="none" stroke="#2c22ff" stroke-width="1.7"/>
<path d="M1347.3 1445.5 V1457.2 M1339.8 1445.5 H1354.8 M1339.8 1457.2 H1354.8" fill="none" stroke="#000000" stroke-width="1.7"/>
<path d="M1391.6 1446.4 V1479.7 M1384.1 1446.4 H1399.1 M1384.1 1479.7 H1399.1" fill="none" stroke="#2c22ff" stroke-width="1.7"/>
<path d="M1465.2 1462.5 V1484.9 M1457.7 1462.5 H1472.7 M1457.7 1484.9 H1472.7" fill="none" stroke="#000000" stroke-width="1.7"/>
<path d="M1509.3 1498.1 V1506.8 M1501.8 1498.1 H1516.8 M1501.8 1506.8 H1516.8" fill="none" stroke="#2c22ff" stroke-width="1.7"/>
<g fill="#000000"><circle cx="1110.9" cy="1349.7" r="6.3"/><circle cx="1110.9" cy="1374.5" r="6.3"/><circle cx="1110.9" cy="1395.9" r="6.3"/><circle cx="1103.6" cy="1423.6" r="6.3"/><circle cx="1118.5" cy="1422.1" r="6.3"/><circle cx="1103.6" cy="1438.8" r="6.3"/><circle cx="1118.5" cy="1438.2" r="6.3"/></g>
<g fill="#2c22ff"><circle cx="1155.5" cy="1322.3" r="6.3"/><circle cx="1152.6" cy="1347.7" r="6.3"/><circle cx="1164.3" cy="1351.5" r="6.3"/><circle cx="1146.8" cy="1359.4" r="6.3"/><circle cx="1158.5" cy="1360.8" r="6.3"/><circle cx="1152.6" cy="1366.7" r="6.3"/><circle cx="1151.8" cy="1411.9" r="6.3"/><circle cx="1159.3" cy="1411.9" r="6.3"/></g>
<g fill="#000000"><circle cx="1221.3" cy="1441.7" r="6.3"/><circle cx="1231.5" cy="1439.7" r="6.3"/><circle cx="1238.2" cy="1438.2" r="6.3"/><circle cx="1229.1" cy="1447" r="6.3"/><circle cx="1224.2" cy="1466" r="6.3"/><circle cx="1234.4" cy="1466.5" r="6.3"/><circle cx="1229.1" cy="1473.3" r="6.3"/><circle cx="1225.6" cy="1496.6" r="6.3"/><circle cx="1232.9" cy="1499" r="6.3"/><circle cx="1229.1" cy="1514.7" r="6.3"/></g>
<g fill="#2c22ff"><circle cx="1273.2" cy="1451.4" r="6.3"/><circle cx="1265.1" cy="1464.5" r="6.3"/><circle cx="1282" cy="1458.7" r="6.3"/><circle cx="1273.8" cy="1467.4" r="6.3"/><circle cx="1265.1" cy="1482" r="6.3"/><circle cx="1279.7" cy="1486.4" r="6.3"/><circle cx="1273.2" cy="1496.6" r="6.3"/><circle cx="1273.2" cy="1541.3" r="6.3"/></g>
<g fill="#000000"><circle cx="1347" cy="1434.4" r="6.3"/><circle cx="1341.1" cy="1439.7" r="6.3"/><circle cx="1352.8" cy="1442" r="6.3"/><circle cx="1338.2" cy="1451.4" r="6.3"/><circle cx="1347" cy="1452.8" r="6.3"/><circle cx="1355.7" cy="1451.4" r="6.3"/><circle cx="1349.9" cy="1480.6" r="6.3"/><circle cx="1344" cy="1487.9" r="6.3"/></g>
<g fill="#2c22ff"><circle cx="1391.6" cy="1410.5" r="6.3"/><circle cx="1399.8" cy="1400.8" r="6.3"/><circle cx="1391.6" cy="1447" r="6.3"/><circle cx="1391.6" cy="1461.6" r="6.3"/><circle cx="1391.6" cy="1499.5" r="6.3"/><circle cx="1383.8" cy="1511.2" r="6.3"/><circle cx="1398.9" cy="1509.8" r="6.3"/></g>
<g fill="#000000"><circle cx="1465.2" cy="1425.7" r="6.3"/><circle cx="1469.6" cy="1449.9" r="6.3"/><circle cx="1460.3" cy="1454.3" r="6.3"/><circle cx="1465.2" cy="1467.4" r="6.3"/><circle cx="1455.9" cy="1476.8" r="6.3"/><circle cx="1473.4" cy="1479.1" r="6.3"/><circle cx="1465.2" cy="1511.2" r="6.3"/><circle cx="1465.2" cy="1524.4" r="6.3"/></g>
<g fill="#2c22ff"><circle cx="1512" cy="1483.5" r="6.3"/><circle cx="1506.1" cy="1487.9" r="6.3"/><circle cx="1509.3" cy="1498.1" r="6.3"/><circle cx="1501.2" cy="1505.4" r="6.3"/><circle cx="1517.8" cy="1505.4" r="6.3"/><circle cx="1505.5" cy="1509.8" r="6.3"/><circle cx="1512.9" cy="1511.2" r="6.3"/><circle cx="1509.3" cy="1526.4" r="6.3"/></g>
<text x="1098.1" y="1596.8" font-size="27.5" stroke="#000000" stroke-width="0.3" stroke-linejoin="round" xml:space="preserve"><tspan>Aged</tspan></text>
<text x="1111" y="1625.1" font-size="26.3" stroke="#000000" stroke-width="0.3" stroke-linejoin="round" xml:space="preserve"><tspan>WT</tspan></text>
<text x="1219.3" y="1596.8" font-size="27.8" stroke="#000000" stroke-width="0.3" stroke-linejoin="round" xml:space="preserve"><tspan>Aged</tspan></text>
<text x="1207.3" y="1627.5" font-size="28.2" stroke="#000000" stroke-width="0.3" stroke-linejoin="round" xml:space="preserve"><tspan>IL-17</tspan><tspan font-size="21.1" dy="-9.3">KO</tspan></text>
<text x="1328" y="1596.8" font-size="26.6" stroke="#000000" stroke-width="0.3" stroke-linejoin="round" xml:space="preserve"><tspan>Young</tspan></text>
<text x="1348" y="1625.1" font-size="25" stroke="#000000" stroke-width="0.3" stroke-linejoin="round" xml:space="preserve"><tspan>WT</tspan></text>
<text x="1456.2" y="1596.8" font-size="27.2" stroke="#000000" stroke-width="0.3" stroke-linejoin="round" xml:space="preserve"><tspan>Aged</tspan></text>
<text x="1439.2" y="1627.5" font-size="27.7" stroke="#000000" stroke-width="0.3" stroke-linejoin="round" xml:space="preserve"><tspan font-family="'Liberation Serif','DejaVu Serif',serif" stroke-width="0.3" font-weight="normal" font-size="27.2">γδ</tspan><tspan>TCR</tspan><tspan font-size="20.8" dy="-9.1">KO</tspan></text>
<!-- panel k -->
<text x="12.8" y="1691.1" font-size="64" stroke="#000000" stroke-width="0.3" stroke-linejoin="round" xml:space="preserve"><tspan>k</tspan></text>
<line x1="142.7" y1="1721.5" x2="142.7" y2="2117" stroke="#000000" stroke-width="3.6"/>
<line x1="126.7" y1="1723.3" x2="142.7" y2="1723.3" stroke="#000000" stroke-width="3.6"/>
<text x="119.7" y="1733.5" font-size="28.5" text-anchor="end" stroke="#000000" stroke-width="0.6" stroke-linejoin="round" xml:space="preserve"><tspan>1200</tspan></text>
<line x1="126.7" y1="1788.7" x2="142.7" y2="1788.7" stroke="#000000" stroke-width="3.6"/>
<text x="119.7" y="1798.9" font-size="28.5" text-anchor="end" stroke="#000000" stroke-width="0.6" stroke-linejoin="round" xml:space="preserve"><tspan>1000</tspan></text>
<line x1="126.7" y1="1853.9" x2="142.7" y2="1853.9" stroke="#000000" stroke-width="3.6"/>
<text x="119.7" y="1864.1" font-size="28.5" text-anchor="end" stroke="#000000" stroke-width="0.6" stroke-linejoin="round" xml:space="preserve"><tspan>800</tspan></text>
<line x1="126.7" y1="1919.1" x2="142.7" y2="1919.1" stroke="#000000" stroke-width="3.6"/>
<text x="119.7" y="1929.3" font-size="28.5" text-anchor="end" stroke="#000000" stroke-width="0.6" stroke-linejoin="round" xml:space="preserve"><tspan>600</tspan></text>
<line x1="126.7" y1="1984.6" x2="142.7" y2="1984.6" stroke="#000000" stroke-width="3.6"/>
<text x="119.7" y="1994.8" font-size="28.5" text-anchor="end" stroke="#000000" stroke-width="0.6" stroke-linejoin="round" xml:space="preserve"><tspan>400</tspan></text>
<line x1="126.7" y1="2050" x2="142.7" y2="2050" stroke="#000000" stroke-width="3.6"/>
<text x="119.7" y="2060.2" font-size="28.5" text-anchor="end" stroke="#000000" stroke-width="0.6" stroke-linejoin="round" xml:space="preserve"><tspan>200</tspan></text>
<line x1="126.7" y1="2115.2" x2="142.7" y2="2115.2" stroke="#000000" stroke-width="3.6"/>
<text x="119.7" y="2125.4" font-size="28.5" text-anchor="end" stroke="#000000" stroke-width="0.6" stroke-linejoin="round" xml:space="preserve"><tspan>0</tspan></text>
<line x1="126.3" y1="2115.2" x2="702.9" y2="2115.2" stroke="#000000" stroke-width="3.6"/>
<line x1="142.7" y1="2115.2" x2="142.7" y2="2131.2" stroke="#000000" stroke-width="3.6"/>
<line x1="244.1" y1="2115.2" x2="244.1" y2="2131.2" stroke="#000000" stroke-width="3.6"/>
<line x1="346.6" y1="2115.2" x2="346.6" y2="2131.2" stroke="#000000" stroke-width="3.6"/>
<line x1="447.9" y1="2115.2" x2="447.9" y2="2131.2" stroke="#000000" stroke-width="3.6"/>
<line x1="550.1" y1="2115.2" x2="550.1" y2="2131.2" stroke="#000000" stroke-width="3.6"/>
<line x1="651.5" y1="2115.2" x2="651.5" y2="2131.2" stroke="#000000" stroke-width="3.6"/>
<text x="133.2" y="2163.1" font-size="30.5" stroke="#000000" stroke-width="0.6" stroke-linejoin="round" xml:space="preserve"><tspan>7</tspan></text>
<text x="234.6" y="2163.1" font-size="30.5" stroke="#000000" stroke-width="0.6" stroke-linejoin="round" xml:space="preserve"><tspan>9</tspan></text>
<text x="328.1" y="2163.1" font-size="30.5" stroke="#000000" stroke-width="0.6" stroke-linejoin="round" xml:space="preserve"><tspan>11</tspan></text>
<text x="429.5" y="2163.1" font-size="30.5" stroke="#000000" stroke-width="0.6" stroke-linejoin="round" xml:space="preserve"><tspan>13</tspan></text>
<text x="531.6" y="2163.1" font-size="30.5" stroke="#000000" stroke-width="0.6" stroke-linejoin="round" xml:space="preserve"><tspan>15</tspan></text>
<text x="633.2" y="2163.1" font-size="30.5" stroke="#000000" stroke-width="0.6" stroke-linejoin="round" xml:space="preserve"><tspan>17</tspan></text>
<text x="269.5" y="2206.2" font-size="31.6" stroke="#000000" stroke-width="0.6" stroke-linejoin="round" xml:space="preserve"><tspan>Days after challenge</tspan></text>
<text x="41.9" y="2076.5" font-size="31.4" transform="rotate(-90 41.9 2076.5)" stroke="#000000" stroke-width="0.6" stroke-linejoin="round" xml:space="preserve"><tspan>Tumor volume (mm</tspan><tspan font-size="23.5" dy="-10.4">3</tspan><tspan dy="10.4">)</tspan></text>
<text x="168.9" y="1769.2" font-size="49.7" stroke="#000000" stroke-width="0.6" stroke-linejoin="round" xml:space="preserve"><tspan>Young WT</tspan></text>
<text x="564" y="1772.7" font-size="50" letter-spacing="-2.6" stroke="#000000" stroke-width="0.6" stroke-linejoin="round" xml:space="preserve"><tspan>MB49</tspan></text>
<line x1="163.7" y1="1805.1" x2="207.3" y2="1805.1" stroke="#f59a23" stroke-width="3.6"/>
<g fill="#f59a23"><circle cx="185.2" cy="1805.1" r="7.6"/></g>
<text x="227.2" y="1815.1" font-size="30.6" fill="#f59a23" stroke="#f59a23" stroke-width="0.6" stroke-linejoin="round" xml:space="preserve"><tspan font-family="'DejaVu Serif','Liberation Serif',serif" stroke-width="0" font-weight="normal" font-size="28.2">α</tspan><tspan font-family="'Liberation Serif','DejaVu Serif',serif" stroke-width="0.3" font-weight="normal" font-size="30">δ</tspan><tspan>TCR</tspan></text>
<line x1="163.7" y1="1843.9" x2="207.3" y2="1843.9" stroke="#9a2fa0" stroke-width="3.6"/>
<g fill="#9a2fa0"><circle cx="185.2" cy="1843.9" r="7.6"/></g>
<text x="227.2" y="1853.9" font-size="29.6" fill="#9a2fa0" stroke="#9a2fa0" stroke-width="0.6" stroke-linejoin="round" xml:space="preserve"><tspan font-family="'DejaVu Serif','Liberation Serif',serif" stroke-width="0" font-weight="normal" font-size="27.2">α</tspan><tspan font-family="'Liberation Serif','DejaVu Serif',serif" stroke-width="0.3" font-weight="normal" font-size="29">δ</tspan><tspan>TCR + </tspan><tspan font-family="'DejaVu Serif','Liberation Serif',serif" stroke-width="0" font-weight="normal" font-size="27.2">α</tspan><tspan>PD-L2</tspan></text>
<path d="M466 1796.5 H474.9 V1841 H466" fill="none" stroke="#000" stroke-width="3.8" stroke-linecap="round" stroke-linejoin="miter"/>
<text x="483.4" y="1825.2" font-size="28.5" stroke="#000000" stroke-width="0.6" stroke-linejoin="round" xml:space="preserve"><tspan>p = &lt; 0.0001</tspan></text>
<path d="M498.7 2044.9 V2061.5 M490.5 2044.9 H507 M490.5 2061.5 H507" fill="none" stroke="#9a2fa0" stroke-width="1.8"/>
<path d="M600.7 2025.6 V2044.3 M592.4 2025.6 H608.9 M592.4 2044.3 H608.9" fill="none" stroke="#9a2fa0" stroke-width="1.8"/>
<path d="M702.6 1999.8 V2019.6 M694.3 1999.8 H710.8 M694.3 2019.6 H710.8" fill="none" stroke="#9a2fa0" stroke-width="1.8"/>
<polyline points="143.6,2101.4 295.2,2086.5 397.4,2069.8 498.7,2053.5 600.7,2034.8 702.6,2009.5" fill="none" stroke="#9a2fa0" stroke-width="3.8" stroke-linejoin="round"/>
<g fill="#9a2fa0"><circle cx="143.6" cy="2101.4" r="7.6"/><circle cx="295.2" cy="2086.5" r="7.6"/><circle cx="397.4" cy="2069.8" r="7.6"/><circle cx="498.7" cy="2053.5" r="7.6"/><circle cx="600.7" cy="2034.8" r="7.6"/><circle cx="702.6" cy="2009.5" r="7.6"/></g>
<path d="M295.2 2065 V2083.6 M286.9 2065 H303.4 M286.9 2083.6 H303.4" fill="none" stroke="#f59a23" stroke-width="1.8"/>
<path d="M397.4 2017.6 V2051.2 M389.1 2017.6 H405.6 M389.1 2051.2 H405.6" fill="none" stroke="#f59a23" stroke-width="1.8"/>
<path d="M498.7 1968.2 V2011 M490.5 1968.2 H507 M490.5 2011 H507" fill="none" stroke="#f59a23" stroke-width="1.8"/>
<path d="M600.7 1894.7 V1962.2 M592.4 1894.7 H608.9 M592.4 1962.2 H608.9" fill="none" stroke="#f59a23" stroke-width="1.8"/>
<path d="M702.6 1782.7 V1875.4 M694.3 1782.7 H710.8 M694.3 1875.4 H710.8" fill="none" stroke="#f59a23" stroke-width="1.8"/>
<polyline points="143.6,2100 295.2,2074.1 397.4,2034.2 498.7,1989.7 600.7,1928.6 702.6,1829.5" fill="none" stroke="#f59a23" stroke-width="3.8" stroke-linejoin="round"/>
<g fill="#f59a23"><circle cx="143.6" cy="2100" r="7.8"/><circle cx="295.2" cy="2074.1" r="7.8"/><circle cx="397.4" cy="2034.2" r="7.8"/><circle cx="498.7" cy="1989.7" r="7.8"/><circle cx="600.7" cy="1928.6" r="7.8"/><circle cx="702.6" cy="1829.5" r="7.8"/></g>
<!-- panel l -->
<text x="755.2" y="1711.8" font-size="64" stroke="#000000" stroke-width="0.3" stroke-linejoin="round" xml:space="preserve"><tspan>l</tspan></text>
<text x="945.2" y="1732.5" font-size="27.5" stroke="#000000" stroke-width="0.3" stroke-linejoin="round" xml:space="preserve"><tspan>p = 0.14</tspan></text>
<path d="M930.5 1774.5 V1748.5 H1063.1 V1774.5" fill="none" stroke="#000" stroke-width="4.9" stroke-linecap="round" stroke-linejoin="miter"/>
<line x1="852.1" y1="1768.2" x2="852.1" y2="2112.4" stroke="#000000" stroke-width="3.1"/>
<line x1="837.7" y1="1769.8" x2="852.1" y2="1769.8" stroke="#000000" stroke-width="3.1"/>
<text x="802.7" y="1779.1" font-size="26" stroke="#000000" stroke-width="0.3" stroke-linejoin="round" xml:space="preserve"><tspan>50</tspan></text>
<line x1="837.7" y1="1837.5" x2="852.1" y2="1837.5" stroke="#000000" stroke-width="3.1"/>
<text x="802.7" y="1846.9" font-size="26" stroke="#000000" stroke-width="0.3" stroke-linejoin="round" xml:space="preserve"><tspan>40</tspan></text>
<line x1="837.7" y1="1906.2" x2="852.1" y2="1906.2" stroke="#000000" stroke-width="3.1"/>
<text x="802.7" y="1915.5" font-size="26" stroke="#000000" stroke-width="0.3" stroke-linejoin="round" xml:space="preserve"><tspan>30</tspan></text>
<line x1="837.7" y1="1973.9" x2="852.1" y2="1973.9" stroke="#000000" stroke-width="3.1"/>
<text x="802.7" y="1983.2" font-size="26" stroke="#000000" stroke-width="0.3" stroke-linejoin="round" xml:space="preserve"><tspan>20</tspan></text>
<line x1="837.7" y1="2042.6" x2="852.1" y2="2042.6" stroke="#000000" stroke-width="3.1"/>
<text x="802.7" y="2051.9" font-size="26" stroke="#000000" stroke-width="0.3" stroke-linejoin="round" xml:space="preserve"><tspan>10</tspan></text>
<line x1="837.7" y1="2110.9" x2="852.1" y2="2110.9" stroke="#000000" stroke-width="3.1"/>
<text x="817.2" y="2120.2" font-size="26" stroke="#000000" stroke-width="0.3" stroke-linejoin="round" xml:space="preserve"><tspan>0</tspan></text>
<line x1="837.7" y1="2110.9" x2="1136.9" y2="2110.9" stroke="#000000" stroke-width="3.1"/>
<line x1="933.3" y1="2110.9" x2="933.3" y2="2125.4" stroke="#000000" stroke-width="3.1"/>
<line x1="1055.9" y1="2110.9" x2="1055.9" y2="2125.4" stroke="#000000" stroke-width="3.1"/>
<text x="773.5" y="2123.1" font-size="33.8" transform="rotate(-90 773.5 2123.1)" stroke="#000000" stroke-width="0.3" stroke-linejoin="round" xml:space="preserve"><tspan>% CD8</tspan><tspan font-size="18.9" dy="-11.1">+</tspan><tspan dy="11.1"> in CD45</tspan><tspan font-size="18.9" dy="-11.1">+</tspan><tspan dy="11.1"> CD3</tspan><tspan font-size="18.9" dy="-11.1">+</tspan></text>
<path d="M895.3 2110.9 V1894.9 H971.7 V2110.9" fill="none" stroke="#f59a23" stroke-width="4.9" stroke-linejoin="miter"/>
<path d="M1017.6 2110.9 V1946.3 H1094.3 V2110.9" fill="none" stroke="#9a2fa0" stroke-width="4.9" stroke-linejoin="miter"/>
<path d="M933.3 1866.8 V1917.1 M912.2 1866.8 H954.4 M912.2 1917.1 H954.4" fill="none" stroke="#f59a23" stroke-width="1.7"/>
<path d="M1055.9 1920.5 V1965.9 M1035.1 1920.5 H1076.8 M1035.1 1965.9 H1076.8" fill="none" stroke="#9a2fa0" stroke-width="1.7"/>
<g fill="#f59a23"><circle cx="923" cy="1788.7" r="5.2"/><circle cx="944" cy="1787.3" r="5.2"/><circle cx="933.3" cy="1801.7" r="5.2"/><circle cx="933.3" cy="1813.7" r="5.2"/><circle cx="933.3" cy="1826.6" r="5.2"/><circle cx="933.3" cy="1862.5" r="5.2"/><circle cx="954.6" cy="1875.4" r="5.2"/><circle cx="933.3" cy="1884.9" r="5.2"/><circle cx="912.4" cy="1900.7" r="5.2"/><circle cx="954.6" cy="1903.6" r="5.2"/><circle cx="933.3" cy="1909" r="5.2"/><circle cx="933.3" cy="2033.4" r="5.2"/><circle cx="954.6" cy="2029.9" r="5.2"/><circle cx="933.3" cy="2073.6" r="5.2"/></g>
<g fill="#9a2fa0"><circle cx="1055.9" cy="1814.3" r="5.2"/><circle cx="1068" cy="1824.6" r="5.2"/><circle cx="1043.9" cy="1834.4" r="5.2"/><circle cx="1068" cy="1842.7" r="5.2"/><circle cx="1068" cy="1855.3" r="5.2"/><circle cx="1043.9" cy="1860.5" r="5.2"/><circle cx="1055.9" cy="1925.7" r="5.2"/><circle cx="1055.9" cy="1976.8" r="5.2"/><circle cx="1068" cy="1995.2" r="5.2"/><circle cx="1020" cy="1998.3" r="5.2"/><circle cx="1091.8" cy="1997.5" r="5.2"/><circle cx="1043.9" cy="2003.2" r="5.2"/><circle cx="1068" cy="2020.4" r="5.2"/><circle cx="1043.9" cy="2028.5" r="5.2"/><circle cx="1068" cy="2058.3" r="5.2"/><circle cx="1043.9" cy="2062.7" r="5.2"/></g>
<text x="888.3" y="2154" font-size="27.5" font-weight="normal" textLength="34.2" lengthAdjust="spacingAndGlyphs" stroke="#000000" stroke-width="0.3" stroke-linejoin="round" xml:space="preserve"><tspan font-family="'DejaVu Serif','Liberation Serif',serif" stroke-width="0" font-weight="normal" font-size="25.3">α</tspan><tspan font-family="'Liberation Serif','DejaVu Serif',serif" stroke-width="0.3" font-weight="normal" font-size="26.9">δ</tspan></text>
<text x="924.7" y="2154" font-size="25.4" stroke="#000000" stroke-width="0.3" stroke-linejoin="round" xml:space="preserve"><tspan>TCR</tspan></text>
<text x="1011.2" y="2154" font-size="27.5" font-weight="normal" textLength="34.2" lengthAdjust="spacingAndGlyphs" stroke="#000000" stroke-width="0.3" stroke-linejoin="round" xml:space="preserve"><tspan font-family="'DejaVu Serif','Liberation Serif',serif" stroke-width="0" font-weight="normal" font-size="25.3">α</tspan><tspan font-family="'Liberation Serif','DejaVu Serif',serif" stroke-width="0.3" font-weight="normal" font-size="26.9">δ</tspan></text>
<text x="1047.6" y="2154" font-size="25.4" stroke="#000000" stroke-width="0.3" stroke-linejoin="round" xml:space="preserve"><tspan>TCR</tspan></text>
<text x="998.5" y="2183.5" font-size="24.8" stroke="#000000" stroke-width="0.3" stroke-linejoin="round" xml:space="preserve"><tspan>+</tspan></text>
<text x="1020" y="2183.5" font-size="27.5" font-weight="normal" textLength="18.1" lengthAdjust="spacingAndGlyphs" stroke="#000000" stroke-width="0.3" stroke-linejoin="round" xml:space="preserve"><tspan font-family="'DejaVu Serif','Liberation Serif',serif" stroke-width="0" font-weight="normal" font-size="25.3">α</tspan></text>
<text x="1037.2" y="2183.5" font-size="26.2" stroke="#000000" stroke-width="0.3" stroke-linejoin="round" xml:space="preserve"><tspan>PD-L2</tspan></text>
<!-- panel m -->
<text x="1169.7" y="1701.7" font-size="64" stroke="#000000" stroke-width="0.3" stroke-linejoin="round" xml:space="preserve"><tspan>m</tspan></text>
<text x="1332.7" y="1813.1" font-size="29.3" stroke="#000000" stroke-width="0.3" stroke-linejoin="round" xml:space="preserve"><tspan>p = 0.095</tspan></text>
<path d="M1344.5 1895.9 V1830.1 H1447.3 V1849.7" fill="none" stroke="#000" stroke-width="4.9" stroke-linecap="round" stroke-linejoin="miter"/>
<line x1="1276.4" y1="1756.2" x2="1276.4" y2="2119.6" stroke="#000000" stroke-width="3.1"/>
<line x1="1261.5" y1="1757.7" x2="1276.4" y2="1757.7" stroke="#000000" stroke-width="3.1"/>
<text x="1226.7" y="1767" font-size="26" stroke="#000000" stroke-width="0.3" stroke-linejoin="round" xml:space="preserve"><tspan>15</tspan></text>
<line x1="1261.5" y1="1877.7" x2="1276.4" y2="1877.7" stroke="#000000" stroke-width="3.1"/>
<text x="1227" y="1887.1" font-size="26" stroke="#000000" stroke-width="0.3" stroke-linejoin="round" xml:space="preserve"><tspan>10</tspan></text>
<line x1="1261.5" y1="1998" x2="1276.4" y2="1998" stroke="#000000" stroke-width="3.1"/>
<text x="1241.2" y="2007.4" font-size="26" stroke="#000000" stroke-width="0.3" stroke-linejoin="round" xml:space="preserve"><tspan>5</tspan></text>
<line x1="1261.5" y1="2118.1" x2="1276.4" y2="2118.1" stroke="#000000" stroke-width="3.1"/>
<text x="1241.5" y="2127.4" font-size="26" stroke="#000000" stroke-width="0.3" stroke-linejoin="round" xml:space="preserve"><tspan>0</tspan></text>
<line x1="1261.5" y1="2118.1" x2="1515.6" y2="2118.1" stroke="#000000" stroke-width="3.1"/>
<line x1="1343.9" y1="2118.1" x2="1343.9" y2="2132.6" stroke="#000000" stroke-width="3.1"/>
<line x1="1446.7" y1="2118.1" x2="1446.7" y2="2132.6" stroke="#000000" stroke-width="3.1"/>
<text x="1205.1" y="2075.8" font-size="36.4" transform="rotate(-90 1205.1 2075.8)" stroke="#000000" stroke-width="0.3" stroke-linejoin="round" xml:space="preserve"><tspan>% IFN</tspan><tspan font-family="'Liberation Serif','DejaVu Serif',serif" stroke-width="0.3" font-weight="normal" font-size="35.7">γ</tspan><tspan font-size="27.3" dy="-12">+</tspan><tspan dy="12"> in CD8</tspan><tspan font-size="27.3" dy="-12">+</tspan></text>
<path d="M1312.8 2118.1 V2086.5 H1375.9 V2118.1" fill="none" stroke="#f59a23" stroke-width="4.9" stroke-linejoin="miter"/>
<path d="M1415.6 2118.1 V2039.9 H1478.7 V2118.1" fill="none" stroke="#9a2fa0" stroke-width="4.9" stroke-linejoin="miter"/>
<path d="M1344.5 2072.7 V2092.8 M1326.8 2072.7 H1362.1 M1326.8 2092.8 H1362.1" fill="none" stroke="#f59a23" stroke-width="1.7"/>
<path d="M1447.3 2013.3 V2060.1 M1429.8 2013.3 H1464.8 M1429.8 2060.1 H1464.8" fill="none" stroke="#9a2fa0" stroke-width="1.7"/>
<g fill="#f59a23"><circle cx="1344.5" cy="2021.9" r="5.2"/><circle cx="1358.8" cy="2058.3" r="5.2"/><circle cx="1344.5" cy="2064.1" r="5.2"/><circle cx="1330.1" cy="2093.1" r="5.2"/><circle cx="1315.2" cy="2095.1" r="5.2"/><circle cx="1372" cy="2093.7" r="5.2"/><circle cx="1358.8" cy="2100.3" r="5.2"/><circle cx="1344.5" cy="2102.3" r="5.2"/><circle cx="1344.5" cy="2118.1" r="5.2"/></g>
<g fill="#9a2fa0"><circle cx="1447.3" cy="1868.8" r="5.2"/><circle cx="1447.3" cy="1981.7" r="5.2"/><circle cx="1447.3" cy="2003.8" r="5.2"/><circle cx="1447.3" cy="2019.6" r="5.2"/><circle cx="1425.7" cy="2058.6" r="5.2"/><circle cx="1468.8" cy="2056.3" r="5.2"/><circle cx="1447.3" cy="2064.4" r="5.2"/><circle cx="1447.3" cy="2094.5" r="5.2"/><circle cx="1468.8" cy="2104.6" r="5.2"/><circle cx="1425.7" cy="2112.9" r="5.2"/></g>
<text x="1289.7" y="2161.1" font-size="27.5" font-weight="normal" textLength="34.2" lengthAdjust="spacingAndGlyphs" stroke="#000000" stroke-width="0.3" stroke-linejoin="round" xml:space="preserve"><tspan font-family="'DejaVu Serif','Liberation Serif',serif" stroke-width="0" font-weight="normal" font-size="25.3">α</tspan><tspan font-family="'Liberation Serif','DejaVu Serif',serif" stroke-width="0.3" font-weight="normal" font-size="26.9">δ</tspan></text>
<text x="1326.1" y="2161.1" font-size="25.4" stroke="#000000" stroke-width="0.3" stroke-linejoin="round" xml:space="preserve"><tspan>TCR</tspan></text>
<text x="1413.1" y="2161.1" font-size="27.5" font-weight="normal" textLength="33.9" lengthAdjust="spacingAndGlyphs" stroke="#000000" stroke-width="0.3" stroke-linejoin="round" xml:space="preserve"><tspan font-family="'DejaVu Serif','Liberation Serif',serif" stroke-width="0" font-weight="normal" font-size="25.3">α</tspan><tspan font-family="'Liberation Serif','DejaVu Serif',serif" stroke-width="0.3" font-weight="normal" font-size="26.9">δ</tspan></text>
<text x="1449.2" y="2161.1" font-size="25.1" stroke="#000000" stroke-width="0.3" stroke-linejoin="round" xml:space="preserve"><tspan>TCR</tspan></text>
<text x="1400.5" y="2190.7" font-size="24.6" stroke="#000000" stroke-width="0.3" stroke-linejoin="round" xml:space="preserve"><tspan>+</tspan></text>
<text x="1421.9" y="2190.7" font-size="27.5" font-weight="normal" textLength="18" lengthAdjust="spacingAndGlyphs" stroke="#000000" stroke-width="0.3" stroke-linejoin="round" xml:space="preserve"><tspan font-family="'DejaVu Serif','Liberation Serif',serif" stroke-width="0" font-weight="normal" font-size="25.3">α</tspan></text>
<text x="1438.9" y="2190.7" font-size="26.1" stroke="#000000" stroke-width="0.3" stroke-linejoin="round" xml:space="preserve"><tspan>PD-L2</tspan></text>
<!-- panel n -->
<text x="1571.9" y="1702.6" font-size="64" stroke="#000000" stroke-width="0.3" stroke-linejoin="round" xml:space="preserve"><tspan>n</tspan></text>
<text x="1782.5" y="1765.5" font-size="29.1" stroke="#000000" stroke-width="0.3" stroke-linejoin="round" xml:space="preserve"><tspan>p = 0.46</tspan></text>
<path d="M1786.3 1852.8 V1782.7 H1887.6 V1800.9" fill="none" stroke="#000" stroke-width="4.9" stroke-linecap="round" stroke-linejoin="miter"/>
<line x1="1719.7" y1="1762.5" x2="1719.7" y2="2120.2" stroke="#000000" stroke-width="3.1"/>
<line x1="1703.9" y1="1764" x2="1719.7" y2="1764" stroke="#000000" stroke-width="3.1"/>
<text x="1639.9" y="1773.3" font-size="26" stroke="#000000" stroke-width="0.3" stroke-linejoin="round" xml:space="preserve"><tspan>6000</tspan></text>
<line x1="1703.9" y1="1882" x2="1719.7" y2="1882" stroke="#000000" stroke-width="3.1"/>
<text x="1639.9" y="1891.4" font-size="26" stroke="#000000" stroke-width="0.3" stroke-linejoin="round" xml:space="preserve"><tspan>4000</tspan></text>
<line x1="1703.9" y1="2000.3" x2="1719.7" y2="2000.3" stroke="#000000" stroke-width="3.1"/>
<text x="1639.9" y="2009.7" font-size="26" stroke="#000000" stroke-width="0.3" stroke-linejoin="round" xml:space="preserve"><tspan>2000</tspan></text>
<line x1="1703.9" y1="2118.6" x2="1719.7" y2="2118.6" stroke="#000000" stroke-width="3.1"/>
<text x="1683.3" y="2128" font-size="26" stroke="#000000" stroke-width="0.3" stroke-linejoin="round" xml:space="preserve"><tspan>0</tspan></text>
<line x1="1703.9" y1="2118.6" x2="1956.5" y2="2118.6" stroke="#000000" stroke-width="3.1"/>
<line x1="1785.7" y1="2118.6" x2="1785.7" y2="2133.1" stroke="#000000" stroke-width="3.1"/>
<line x1="1887.6" y1="2118.6" x2="1887.6" y2="2133.1" stroke="#000000" stroke-width="3.1"/>
<text x="1631.4" y="2061.9" font-size="34.5" transform="rotate(-90 1631.4 2061.9)" stroke="#000000" stroke-width="0.3" stroke-linejoin="round" xml:space="preserve"><tspan>MFI IFN</tspan><tspan font-family="'Liberation Serif','DejaVu Serif',serif" stroke-width="0.3" font-weight="normal" font-size="33.8">γ</tspan><tspan> in CD8</tspan><tspan font-size="19.3" dy="-11.4">+</tspan></text>
<path d="M1755.1 2118.6 V1978.8 H1817.7 V2118.6" fill="none" stroke="#f59a23" stroke-width="4.9" stroke-linejoin="miter"/>
<path d="M1857.1 2118.6 V1959.6 H1919.6 V2118.6" fill="none" stroke="#9a2fa0" stroke-width="4.9" stroke-linejoin="miter"/>
<path d="M1786.3 1963 V1988.9 M1768.9 1963 H1803.6 M1768.9 1988.9 H1803.6" fill="none" stroke="#f59a23" stroke-width="1.7"/>
<path d="M1888.2 1935.7 V1978.2 M1871 1935.7 H1905.4 M1871 1978.2 H1905.4" fill="none" stroke="#9a2fa0" stroke-width="1.7"/>
<g fill="#f59a23"><circle cx="1786.3" cy="1892.7" r="5.2"/><circle cx="1775.6" cy="1942.1" r="5.2"/><circle cx="1797.2" cy="1940.6" r="5.2"/><circle cx="1786.3" cy="1963" r="5.2"/><circle cx="1786.3" cy="1979.7" r="5.2"/><circle cx="1764.7" cy="2003.2" r="5.2"/><circle cx="1807.8" cy="1998.9" r="5.2"/><circle cx="1786.3" cy="2007.5" r="5.2"/><circle cx="1807.8" cy="2012.4" r="5.2"/><circle cx="1764.7" cy="2018.4" r="5.2"/></g>
<g fill="#9a2fa0"><circle cx="1888.2" cy="1810" r="5.2"/><circle cx="1888.2" cy="1892.7" r="5.2"/><circle cx="1877.6" cy="1943.5" r="5.2"/><circle cx="1899.1" cy="1942.3" r="5.2"/><circle cx="1899.1" cy="1965.9" r="5.2"/><circle cx="1877.6" cy="1973.9" r="5.2"/><circle cx="1877.6" cy="1993.2" r="5.2"/><circle cx="1899.1" cy="1991.7" r="5.2"/><circle cx="1888.2" cy="2013.8" r="5.2"/><circle cx="1888.2" cy="2042" r="5.2"/></g>
<text x="1742.4" y="2162" font-size="27.5" font-weight="normal" textLength="34.2" lengthAdjust="spacingAndGlyphs" stroke="#000000" stroke-width="0.3" stroke-linejoin="round" xml:space="preserve"><tspan font-family="'DejaVu Serif','Liberation Serif',serif" stroke-width="0" font-weight="normal" font-size="25.3">α</tspan><tspan font-family="'Liberation Serif','DejaVu Serif',serif" stroke-width="0.3" font-weight="normal" font-size="26.9">δ</tspan></text>
<text x="1778.8" y="2162" font-size="25.4" stroke="#000000" stroke-width="0.3" stroke-linejoin="round" xml:space="preserve"><tspan>TCR</tspan></text>
<text x="1844.9" y="2162" font-size="27.5" font-weight="normal" textLength="34.2" lengthAdjust="spacingAndGlyphs" stroke="#000000" stroke-width="0.3" stroke-linejoin="round" xml:space="preserve"><tspan font-family="'DejaVu Serif','Liberation Serif',serif" stroke-width="0" font-weight="normal" font-size="25.3">α</tspan><tspan font-family="'Liberation Serif','DejaVu Serif',serif" stroke-width="0.3" font-weight="normal" font-size="26.9">δ</tspan></text>
<text x="1881.3" y="2162" font-size="25.4" stroke="#000000" stroke-width="0.3" stroke-linejoin="round" xml:space="preserve"><tspan>TCR</tspan></text>
<text x="1829.3" y="2191.6" font-size="25.6" stroke="#000000" stroke-width="0.3" stroke-linejoin="round" xml:space="preserve"><tspan>+</tspan></text>
<text x="1851.6" y="2191.6" font-size="27.5" font-weight="normal" textLength="18.7" lengthAdjust="spacingAndGlyphs" stroke="#000000" stroke-width="0.3" stroke-linejoin="round" xml:space="preserve"><tspan font-family="'DejaVu Serif','Liberation Serif',serif" stroke-width="0" font-weight="normal" font-size="25.3">α</tspan></text>
<text x="1869.2" y="2191.6" font-size="27.1" stroke="#000000" stroke-width="0.3" stroke-linejoin="round" xml:space="preserve"><tspan>PD-L2</tspan></text>
</svg>
</body></html>
